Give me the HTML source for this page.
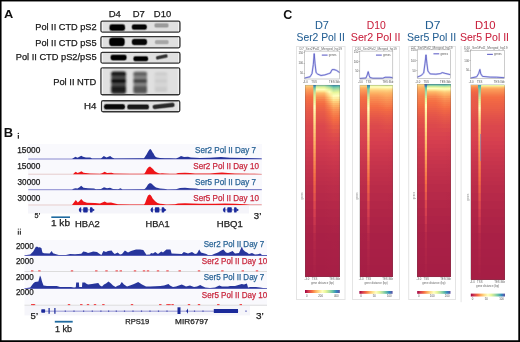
<!DOCTYPE html><html><head><meta charset="utf-8"><style>
html,body{margin:0;padding:0;background:#fff;}
body{width:520px;height:342px;overflow:hidden;position:relative;font-family:"Liberation Sans", sans-serif;}
svg{position:absolute;left:0;top:0;display:block;will-change:transform;}
svg text{font-family:"Liberation Sans", sans-serif;}
</style></head><body>
<svg width="520" height="342" viewBox="0 0 520 342">
<defs>
<filter id="bl" x="-20%" y="-50%" width="140%" height="200%"><feGaussianBlur stdDeviation="1"/></filter>
<linearGradient id="spec" x1="0" x2="1" y1="0" y2="0"><stop offset="0.00" stop-color="#9e0142"/><stop offset="0.10" stop-color="#d53e4f"/><stop offset="0.20" stop-color="#f46d43"/><stop offset="0.30" stop-color="#fdae61"/><stop offset="0.40" stop-color="#fee08b"/><stop offset="0.50" stop-color="#ffffbf"/><stop offset="0.60" stop-color="#e6f598"/><stop offset="0.70" stop-color="#abdda4"/><stop offset="0.80" stop-color="#66c2a5"/><stop offset="0.90" stop-color="#3288bd"/><stop offset="1.00" stop-color="#5e4fa2"/></linearGradient>
</defs>
<rect x="0" y="0" width="520" height="342" fill="#fff"/>
<text x="4.08" y="18.00" font-size="11.59" font-weight="bold" fill="#111" textLength="9.27" lengthAdjust="spacingAndGlyphs" >A</text>
<text x="108.74" y="16.70" font-size="9.42" font-weight="normal" fill="#1a1a1a" stroke="#1a1a1a" stroke-width="0.25" textLength="12.18" lengthAdjust="spacingAndGlyphs" >D4</text>
<text x="132.65" y="16.70" font-size="9.42" font-weight="normal" fill="#1a1a1a" stroke="#1a1a1a" stroke-width="0.25" textLength="12.06" lengthAdjust="spacingAndGlyphs" >D7</text>
<text x="153.85" y="16.70" font-size="9.42" font-weight="normal" fill="#1a1a1a" stroke="#1a1a1a" stroke-width="0.25" textLength="17.28" lengthAdjust="spacingAndGlyphs" >D10</text>
<text x="35.26" y="29.90" font-size="9.57" font-weight="normal" fill="#1a1a1a" stroke="#1a1a1a" stroke-width="0.25" textLength="61.39" lengthAdjust="spacingAndGlyphs" >Pol II CTD pS2</text>
<text x="35.26" y="45.80" font-size="9.57" font-weight="normal" fill="#1a1a1a" stroke="#1a1a1a" stroke-width="0.25" textLength="61.29" lengthAdjust="spacingAndGlyphs" >Pol II CTD pS5</text>
<text x="15.76" y="59.70" font-size="9.42" font-weight="normal" fill="#1a1a1a" stroke="#1a1a1a" stroke-width="0.25" textLength="80.82" lengthAdjust="spacingAndGlyphs" >Pol II CTD pS2/pS5</text>
<text x="53.15" y="84.70" font-size="9.57" font-weight="normal" fill="#1a1a1a" stroke="#1a1a1a" stroke-width="0.25" textLength="43.19" lengthAdjust="spacingAndGlyphs" >Pol II NTD</text>
<text x="84.12" y="108.90" font-size="8.99" font-weight="normal" fill="#1a1a1a" stroke="#1a1a1a" stroke-width="0.25" textLength="12.40" lengthAdjust="spacingAndGlyphs" >H4</text>
<rect x="100.95" y="21.15" width="79.00" height="10.90" rx="1.5" fill="#e0e0e0" stroke="#333" stroke-width="1.3"/>
<rect x="101.90" y="22.00" width="1" height="9.20" fill="#f4f4f4"/>
<rect x="178.00" y="22.00" width="1" height="9.20" fill="#f4f4f4"/>
<rect x="100.95" y="36.65" width="79.00" height="11.20" rx="1.5" fill="#e0e0e0" stroke="#333" stroke-width="1.3"/>
<rect x="101.90" y="37.50" width="1" height="9.50" fill="#f4f4f4"/>
<rect x="178.00" y="37.50" width="1" height="9.50" fill="#f4f4f4"/>
<rect x="100.95" y="52.45" width="79.00" height="10.60" rx="1.5" fill="#e0e0e0" stroke="#333" stroke-width="1.3"/>
<rect x="101.90" y="53.30" width="1" height="8.90" fill="#f4f4f4"/>
<rect x="178.00" y="53.30" width="1" height="8.90" fill="#f4f4f4"/>
<rect x="100.95" y="67.85" width="78.80" height="26.90" rx="1.5" fill="#e0e0e0" stroke="#333" stroke-width="1.3"/>
<rect x="101.90" y="68.70" width="1" height="25.20" fill="#f4f4f4"/>
<rect x="177.80" y="68.70" width="1" height="25.20" fill="#f4f4f4"/>
<rect x="101.55" y="100.75" width="78.20" height="11.00" rx="1.5" fill="#e0e0e0" stroke="#333" stroke-width="1.3"/>
<rect x="102.50" y="101.60" width="1" height="9.30" fill="#f4f4f4"/>
<rect x="177.80" y="101.60" width="1" height="9.30" fill="#f4f4f4"/>
<rect x="108.80" y="23.60" width="16.90" height="7.90" rx="3.34" fill="#000" opacity="0.22"/>
<rect x="109.30" y="24.10" width="15.90" height="6.90" rx="2.84" fill="#000" opacity="0.35"/>
<rect x="109.70" y="24.50" width="15.10" height="6.10" rx="2.44" fill="#000" opacity="0.50"/>
<rect x="110.10" y="24.90" width="14.30" height="5.30" rx="2.04" fill="#000" opacity="1.00"/>
<rect x="131.20" y="23.70" width="16.30" height="6.70" rx="2.88" fill="#050505" opacity="0.22"/>
<rect x="131.70" y="24.20" width="15.30" height="5.70" rx="2.38" fill="#050505" opacity="0.35"/>
<rect x="132.10" y="24.60" width="14.50" height="4.90" rx="1.98" fill="#050505" opacity="0.50"/>
<rect x="132.50" y="25.00" width="13.70" height="4.10" rx="1.58" fill="#050505" opacity="1.00"/>
<rect x="153.80" y="22.60" width="15.40" height="5.60" rx="2.45" fill="#9a9a9a" opacity="0.22"/>
<rect x="154.30" y="23.10" width="14.40" height="4.60" rx="1.95" fill="#9a9a9a" opacity="0.35"/>
<rect x="154.70" y="23.50" width="13.60" height="3.80" rx="1.55" fill="#9a9a9a" opacity="0.50"/>
<rect x="155.10" y="23.90" width="12.80" height="3.00" rx="1.15" fill="#9a9a9a" opacity="1.00"/>
<rect x="108.50" y="36.90" width="16.90" height="9.90" rx="4.11" fill="#000" opacity="0.22"/>
<rect x="109.00" y="37.40" width="15.90" height="8.90" rx="3.61" fill="#000" opacity="0.35"/>
<rect x="109.40" y="37.80" width="15.10" height="8.10" rx="3.21" fill="#000" opacity="0.50"/>
<rect x="109.80" y="38.20" width="14.30" height="7.30" rx="2.81" fill="#000" opacity="1.00"/>
<rect x="131.20" y="38.30" width="16.50" height="7.40" rx="3.15" fill="#050505" opacity="0.22"/>
<rect x="131.70" y="38.80" width="15.50" height="6.40" rx="2.65" fill="#050505" opacity="0.35"/>
<rect x="132.10" y="39.20" width="14.70" height="5.60" rx="2.25" fill="#050505" opacity="0.50"/>
<rect x="132.50" y="39.60" width="13.90" height="4.80" rx="1.85" fill="#050505" opacity="1.00"/>
<rect x="154.30" y="39.40" width="14.90" height="5.40" rx="2.38" fill="#a6a6a6" opacity="0.22"/>
<rect x="154.80" y="39.90" width="13.90" height="4.40" rx="1.88" fill="#a6a6a6" opacity="0.35"/>
<rect x="155.20" y="40.30" width="13.10" height="3.60" rx="1.48" fill="#a6a6a6" opacity="0.50"/>
<rect x="155.60" y="40.70" width="12.30" height="2.80" rx="1.08" fill="#a6a6a6" opacity="1.00"/>
<rect x="109.90" y="54.10" width="17.40" height="7.00" rx="2.99" fill="#000" opacity="0.22"/>
<rect x="110.40" y="54.60" width="16.40" height="6.00" rx="2.49" fill="#000" opacity="0.35"/>
<rect x="110.80" y="55.00" width="15.60" height="5.20" rx="2.09" fill="#000" opacity="0.50"/>
<rect x="111.20" y="55.40" width="14.80" height="4.40" rx="1.69" fill="#000" opacity="1.00"/>
<rect x="132.80" y="55.60" width="15.90" height="6.30" rx="2.72" fill="#000" opacity="0.22"/>
<rect x="133.30" y="56.10" width="14.90" height="5.30" rx="2.22" fill="#000" opacity="0.35"/>
<rect x="133.70" y="56.50" width="14.10" height="4.50" rx="1.82" fill="#000" opacity="0.50"/>
<rect x="134.10" y="56.90" width="13.30" height="3.70" rx="1.42" fill="#000" opacity="1.00"/>
<rect x="103.40" y="103.40" width="22.20" height="6.70" rx="2.88" fill="#080808" opacity="0.22"/>
<rect x="103.90" y="103.90" width="21.20" height="5.70" rx="2.38" fill="#080808" opacity="0.35"/>
<rect x="104.30" y="104.30" width="20.40" height="4.90" rx="1.98" fill="#080808" opacity="0.50"/>
<rect x="104.70" y="104.70" width="19.60" height="4.10" rx="1.58" fill="#080808" opacity="1.00"/>
<rect x="126.60" y="103.80" width="23.00" height="6.30" rx="2.72" fill="#181818" opacity="0.22"/>
<rect x="127.10" y="104.30" width="22.00" height="5.30" rx="2.22" fill="#181818" opacity="0.35"/>
<rect x="127.50" y="104.70" width="21.20" height="4.50" rx="1.82" fill="#181818" opacity="0.50"/>
<rect x="127.90" y="105.10" width="20.40" height="3.70" rx="1.42" fill="#181818" opacity="1.00"/>
<g transform="rotate(-12 161.80 56.90)">
<rect x="155.25" y="54.50" width="13.10" height="4.80" rx="2.40" fill="#333" opacity="0.22"/>
<rect x="155.75" y="55.00" width="12.10" height="3.80" rx="1.90" fill="#333" opacity="0.35"/>
<rect x="156.15" y="55.40" width="11.30" height="3.00" rx="1.50" fill="#333" opacity="0.50"/>
<rect x="156.55" y="55.80" width="10.50" height="2.20" rx="1.10" fill="#333" opacity="1.00"/>
</g>
<g transform="rotate(-6.5 163.60 105.90)">
<rect x="151.90" y="103.10" width="23.40" height="5.60" rx="2.80" fill="#2a2a2a" opacity="0.22"/>
<rect x="152.40" y="103.60" width="22.40" height="4.60" rx="2.30" fill="#2a2a2a" opacity="0.35"/>
<rect x="152.80" y="104.00" width="21.60" height="3.80" rx="1.90" fill="#2a2a2a" opacity="0.50"/>
<rect x="153.20" y="104.40" width="20.80" height="3.00" rx="1.50" fill="#2a2a2a" opacity="1.00"/>
</g>
<g filter="url(#bl)">
<rect x="111.3" y="71.3" width="14.6" height="23.0" rx="2.2" fill="#4a4a4a"/>
<rect x="111.3" y="72.2" width="14.6" height="3.20" rx="1.2" fill="#080808"/>
<rect x="111.3" y="79.2" width="14.6" height="3.60" rx="1.2" fill="#000"/>
<rect x="111.3" y="86.2" width="14.6" height="6.60" rx="1.2" fill="#1a1a1a"/>
<rect x="133.5" y="71.6" width="13.5" height="22.6" rx="2.2" fill="#858585"/>
<rect x="133.5" y="72.2" width="13.5" height="3.20" rx="1.2" fill="#5c5c5c"/>
<rect x="133.5" y="79.2" width="13.5" height="3.60" rx="1.2" fill="#3c3c3c"/>
<rect x="133.5" y="86.2" width="13.5" height="6.60" rx="1.2" fill="#525252"/>
<rect x="154.5" y="72" width="13" height="20" rx="2" fill="#d6d6d6"/>
<rect x="155" y="72.5" width="12" height="2.50" rx="1.2" fill="#cbcbcb"/>
<rect x="155" y="79.5" width="12" height="3.00" rx="1.2" fill="#cbcbcb"/>
<rect x="155" y="87" width="12" height="5.00" rx="1.2" fill="#cbcbcb"/>
</g>
<text x="3.86" y="137.20" font-size="12.03" font-weight="bold" fill="#111" textLength="9.35" lengthAdjust="spacingAndGlyphs" >B</text>
<circle cx="18.35" cy="133.4" r="0.7" fill="#222"/><rect x="17.75" y="135.0" width="1.2" height="3.7" fill="#222"/>
<rect x="28" y="144" width="234" height="61.5" fill="#f9f9fd"/>
<rect x="28" y="205.5" width="221" height="8" fill="#f5f5fa"/>
<text x="17.28" y="152.80" font-size="8.30" font-weight="normal" fill="#1a1a1a" stroke="#1a1a1a" stroke-width="0.25" textLength="23.02" lengthAdjust="spacingAndGlyphs" >15000</text>
<text x="17.28" y="168.70" font-size="8.30" font-weight="normal" fill="#1a1a1a" stroke="#1a1a1a" stroke-width="0.25" textLength="23.02" lengthAdjust="spacingAndGlyphs" >15000</text>
<text x="17.57" y="184.50" font-size="8.30" font-weight="normal" fill="#1a1a1a" stroke="#1a1a1a" stroke-width="0.25" textLength="22.72" lengthAdjust="spacingAndGlyphs" >30000</text>
<text x="17.57" y="200.50" font-size="8.30" font-weight="normal" fill="#1a1a1a" stroke="#1a1a1a" stroke-width="0.25" textLength="22.72" lengthAdjust="spacingAndGlyphs" >30000</text>
<rect x="28.3" y="158.50" width="233.5" height="1" fill="#8a8ad0"/>
<rect x="28.3" y="173.70" width="233.5" height="1" fill="#e6cccc"/>
<rect x="28.3" y="189.20" width="233.5" height="1" fill="#8a8ad0"/>
<rect x="28.3" y="204.50" width="233.5" height="1" fill="#e6cccc"/>
<path d="M28.30,159.00 L72.00,159.00 L73.50,158.00 L75.40,156.70 L77.50,157.70 L79.00,157.00 L81.20,155.70 L83.00,156.80 L86.00,157.40 L90.30,157.60 L92.00,158.60 L101.00,158.50 L103.80,156.10 L106.50,157.40 L110.20,155.90 L112.00,157.50 L114.40,158.60 L144.00,158.25 L145.00,156.80 L146.50,154.50 L148.00,151.70 L149.50,149.60 L150.50,149.10 L151.50,150.30 L152.50,152.20 L153.50,153.60 L154.50,155.40 L155.50,156.80 L157.00,157.60 L160.00,158.00 L165.00,158.20 L170.00,158.30 L176.00,158.50 L179.00,157.20 L181.00,156.10 L184.00,157.00 L188.00,156.80 L191.00,157.50 L200.00,158.00 L210.00,157.80 L221.00,157.00 L230.00,157.80 L245.00,158.00 L255.00,158.20 L261.50,158.50 L261.80,159.00 Z" fill="#27359c"/>
<path d="M28.30,174.20 L73.00,174.20 L74.50,172.70 L75.80,171.70 L77.50,172.90 L79.50,172.20 L81.50,171.20 L83.50,172.70 L88.00,173.20 L90.00,173.60 L100.00,173.80 L102.00,173.20 L104.70,171.70 L107.00,173.00 L111.50,172.70 L114.00,173.60 L130.00,173.80 L143.50,173.70 L144.50,173.50 L145.50,171.90 L147.00,169.10 L148.50,167.20 L150.00,166.50 L151.50,167.70 L153.00,169.10 L154.50,170.90 L156.00,172.10 L158.00,173.00 L160.00,173.40 L162.00,173.30 L165.00,173.60 L170.00,173.80 L176.00,173.70 L178.00,172.90 L185.00,172.70 L190.00,173.00 L195.00,173.40 L210.00,173.40 L215.00,172.90 L222.00,172.60 L228.00,173.00 L235.00,173.60 L250.00,173.80 L261.50,173.90 L261.80,174.20 Z" fill="#ee1418"/>
<path d="M28.30,189.70 L72.00,189.70 L73.50,188.70 L75.40,188.20 L77.50,188.50 L79.50,187.20 L81.20,185.70 L83.50,187.70 L88.00,188.20 L94.00,188.40 L96.00,189.30 L101.00,189.10 L104.00,187.20 L107.00,188.20 L110.00,187.70 L113.00,188.90 L118.00,189.20 L120.60,188.20 L122.50,189.40 L144.00,189.30 L145.00,188.80 L146.50,186.90 L148.00,184.60 L149.50,183.20 L151.00,183.30 L152.50,184.60 L154.00,186.10 L156.00,187.40 L158.00,188.10 L160.00,188.40 L163.00,188.70 L165.50,189.10 L167.50,189.50 L176.00,189.20 L180.00,187.90 L185.00,187.70 L190.00,188.20 L196.00,188.50 L200.00,189.30 L261.50,189.50 L261.80,189.70 Z" fill="#27359c"/>
<path d="M28.30,205.00 L72.00,205.00 L73.50,203.00 L75.80,200.00 L77.80,202.50 L79.50,201.00 L81.20,199.00 L83.50,201.50 L87.00,202.80 L95.00,203.00 L100.00,203.40 L103.00,202.20 L104.70,201.50 L107.00,202.80 L111.00,202.50 L114.80,203.50 L118.00,204.20 L130.00,204.40 L144.00,204.50 L145.00,203.30 L146.00,200.50 L147.00,197.70 L148.00,195.40 L149.50,194.40 L150.50,194.90 L151.50,196.30 L152.50,198.20 L154.00,200.00 L155.50,201.60 L157.50,203.10 L160.00,203.70 L163.00,204.10 L166.00,204.40 L168.00,204.60 L175.00,204.20 L178.00,203.40 L185.00,203.20 L192.00,203.50 L200.00,203.80 L215.00,203.70 L225.00,203.50 L235.00,203.80 L245.00,204.20 L250.00,204.70 L261.50,204.80 L261.80,205.00 Z" fill="#ee1418"/>
<text x="195.04" y="153.20" font-size="8.40" font-weight="normal" fill="#2a6496" stroke="#2a6496" stroke-width="0.25" textLength="61.06" lengthAdjust="spacingAndGlyphs" >Ser2 Pol II Day 7</text>
<text x="193.24" y="168.80" font-size="8.40" font-weight="normal" fill="#c9283e" stroke="#c9283e" stroke-width="0.25" textLength="65.65" lengthAdjust="spacingAndGlyphs" >Ser2 Pol II Day 10</text>
<text x="195.04" y="185.00" font-size="8.40" font-weight="normal" fill="#2a6496" stroke="#2a6496" stroke-width="0.25" textLength="61.06" lengthAdjust="spacingAndGlyphs" >Ser5 Pol II Day 7</text>
<text x="193.24" y="201.00" font-size="8.40" font-weight="normal" fill="#c9283e" stroke="#c9283e" stroke-width="0.25" textLength="65.65" lengthAdjust="spacingAndGlyphs" >Ser5 Pol II Day 10</text>
<rect x="78.70" y="209.50" width="15.5" height="0.8" fill="#6a70c0"/>
<path d="M81.20,207.20 C78.20,207.70 78.20,212.10 81.20,212.60 Z" fill="#1b2a9a"/>
<rect x="83.20" y="207.20" width="4.5" height="5.40" rx="0.8" fill="#1b2a9a"/>
<rect x="90.00" y="207.20" width="2.4" height="5.40" rx="0.6" fill="#1b2a9a"/>
<path d="M92.20,208.00 L94.70,209.90 L92.20,211.80 Z" fill="#1b2a9a"/>
<rect x="150.40" y="209.50" width="15.5" height="0.8" fill="#6a70c0"/>
<path d="M152.90,207.20 C149.90,207.70 149.90,212.10 152.90,212.60 Z" fill="#1b2a9a"/>
<rect x="154.90" y="207.20" width="4.5" height="5.40" rx="0.8" fill="#1b2a9a"/>
<rect x="161.70" y="207.20" width="2.4" height="5.40" rx="0.6" fill="#1b2a9a"/>
<path d="M163.90,208.00 L166.40,209.90 L163.90,211.80 Z" fill="#1b2a9a"/>
<rect x="222.80" y="209.50" width="15.5" height="0.8" fill="#6a70c0"/>
<path d="M225.30,207.20 C222.30,207.70 222.30,212.10 225.30,212.60 Z" fill="#1b2a9a"/>
<rect x="227.30" y="207.20" width="4.5" height="5.40" rx="0.8" fill="#1b2a9a"/>
<rect x="234.10" y="207.20" width="2.4" height="5.40" rx="0.6" fill="#1b2a9a"/>
<path d="M236.30,208.00 L238.80,209.90 L236.30,211.80 Z" fill="#1b2a9a"/>
<text x="34.61" y="218.40" font-size="7.97" font-weight="normal" fill="#222" stroke="#222" stroke-width="0.25" textLength="5.65" lengthAdjust="spacingAndGlyphs" >5’</text>
<text x="253.81" y="218.80" font-size="8.41" font-weight="normal" fill="#222" stroke="#222" stroke-width="0.25" textLength="7.50" lengthAdjust="spacingAndGlyphs" >3’</text>
<rect x="51.3" y="216.4" width="18.7" height="1.6" fill="#1f6aa0"/>
<text x="50.94" y="226.40" font-size="8.20" font-weight="normal" fill="#222" stroke="#222" stroke-width="0.25" textLength="19.06" lengthAdjust="spacingAndGlyphs" >1 kb</text>
<text x="75.05" y="226.50" font-size="8.40" font-weight="normal" fill="#222" stroke="#222" stroke-width="0.25" textLength="24.65" lengthAdjust="spacingAndGlyphs" >HBA2</text>
<text x="145.46" y="226.60" font-size="8.40" font-weight="normal" fill="#222" stroke="#222" stroke-width="0.25" textLength="24.18" lengthAdjust="spacingAndGlyphs" >HBA1</text>
<text x="216.84" y="226.60" font-size="8.40" font-weight="normal" fill="#222" stroke="#222" stroke-width="0.25" textLength="26.03" lengthAdjust="spacingAndGlyphs" >HBQ1</text>
<circle cx="18.35" cy="229.1" r="0.65" fill="#333"/><rect x="17.75" y="230.8" width="1.15" height="3.9" fill="#333"/><circle cx="20.4" cy="229.1" r="0.65" fill="#333"/><rect x="19.8" y="230.8" width="1.15" height="3.9" fill="#333"/>
<rect x="24.5" y="240" width="242.5" height="66" fill="#f9f9fd"/>
<rect x="24.5" y="306" width="225.5" height="9.4" fill="#f5f5fa"/>
<rect x="24.5" y="255.00" width="242.5" height="1" fill="#8a8ad0"/>
<rect x="24.5" y="271.00" width="242.5" height="1" fill="#dcdcdc"/>
<rect x="24.5" y="288.00" width="242.5" height="1" fill="#8a8ad0"/>
<rect x="24.5" y="304.70" width="242.5" height="1" fill="#dcdcdc"/>
<text x="15.90" y="248.90" font-size="8.30" font-weight="normal" fill="#1a1a1a" stroke="#1a1a1a" stroke-width="0.25" textLength="17.88" lengthAdjust="spacingAndGlyphs" >2000</text>
<text x="15.90" y="263.90" font-size="8.30" font-weight="normal" fill="#1a1a1a" stroke="#1a1a1a" stroke-width="0.25" textLength="17.88" lengthAdjust="spacingAndGlyphs" >2000</text>
<text x="15.90" y="280.00" font-size="8.30" font-weight="normal" fill="#1a1a1a" stroke="#1a1a1a" stroke-width="0.25" textLength="17.88" lengthAdjust="spacingAndGlyphs" >2000</text>
<text x="15.90" y="295.40" font-size="8.30" font-weight="normal" fill="#1a1a1a" stroke="#1a1a1a" stroke-width="0.25" textLength="17.88" lengthAdjust="spacingAndGlyphs" >2000</text>
<path d="M24.50,255.50 L25.00,255.20 L30.20,254.50 L33.20,251.50 L35.90,246.70 L37.50,246.70 L38.50,247.50 L39.60,247.20 L41.40,248.00 L42.40,252.50 L44.00,253.30 L49.60,253.50 L51.70,251.00 L53.00,253.30 L57.00,254.50 L58.80,255.00 L66.00,255.00 L70.00,254.00 L75.00,254.20 L81.30,253.70 L83.30,251.50 L86.00,252.00 L88.00,253.00 L90.00,252.50 L93.20,251.50 L97.00,252.00 L99.00,253.50 L101.40,255.00 L103.40,251.00 L106.00,252.00 L108.00,251.00 L111.60,250.50 L113.00,252.50 L114.70,254.00 L117.70,252.50 L120.00,254.50 L122.00,254.00 L124.90,250.50 L128.00,252.50 L131.00,251.00 L136.00,249.50 L140.00,249.50 L143.30,250.00 L146.40,254.70 L150.00,254.50 L151.00,253.00 L153.00,253.50 L155.20,252.00 L158.00,254.00 L161.30,251.50 L163.00,252.50 L166.40,249.50 L170.50,249.50 L171.60,253.50 L181.80,254.00 L183.80,252.00 L188.00,253.50 L192.00,252.00 L195.00,254.00 L197.00,253.50 L199.20,249.50 L201.00,252.50 L206.30,254.00 L208.00,255.00 L212.00,255.00 L214.00,254.00 L218.00,252.50 L221.30,250.50 L223.40,249.50 L226.00,252.50 L228.00,253.00 L232.60,251.00 L235.00,253.50 L239.00,253.00 L241.80,246.50 L243.00,249.50 L245.00,251.50 L247.00,252.50 L249.00,254.00 L252.00,253.00 L255.00,254.50 L258.00,254.30 L260.20,253.50 L262.00,254.90 L267.00,255.10 L267.00,255.50 Z" fill="#27359c"/>
<path d="M24.50,288.50 L25.00,288.20 L30.20,287.50 L33.20,283.50 L35.00,282.00 L38.40,281.50 L40.00,275.60 L41.00,277.50 L42.00,281.50 L43.50,285.50 L47.00,285.90 L52.00,286.10 L56.80,286.00 L60.00,286.90 L71.00,287.00 L74.00,287.50 L75.80,287.30 L76.20,282.50 L78.90,282.50 L79.20,287.00 L82.00,287.00 L82.30,282.50 L85.00,282.50 L86.00,283.50 L88.00,284.50 L92.00,284.00 L95.00,283.50 L98.30,283.00 L100.00,285.50 L102.00,286.50 L104.00,284.50 L106.00,283.50 L108.50,281.50 L111.00,283.50 L113.00,285.50 L115.70,287.00 L117.00,286.00 L119.80,285.00 L121.80,282.00 L124.00,284.50 L127.00,286.50 L130.00,285.50 L134.00,284.00 L138.20,282.00 L142.00,284.50 L146.00,286.50 L150.00,286.50 L160.30,286.00 L164.00,285.50 L168.50,284.00 L170.00,285.50 L173.00,287.00 L176.00,286.50 L181.80,284.50 L184.00,285.50 L186.00,286.50 L190.00,285.50 L194.00,287.00 L197.00,286.50 L200.20,285.00 L202.00,286.00 L205.30,287.50 L210.00,288.00 L215.00,287.50 L219.30,285.50 L222.00,286.50 L228.00,286.50 L230.00,286.00 L235.00,286.00 L241.80,284.00 L244.00,284.50 L246.90,283.50 L248.00,287.50 L250.00,287.00 L256.00,287.00 L260.00,287.50 L263.00,288.00 L267.00,288.20 L267.00,288.50 Z" fill="#27359c"/>
<rect x="31.00" y="270.30" width="2.4" height="1.1" fill="#ee1418" opacity="0.75"/>
<rect x="38.20" y="270.30" width="2.4" height="1.1" fill="#ee1418" opacity="0.75"/>
<rect x="70.80" y="270.30" width="2.4" height="1.1" fill="#ee1418" opacity="0.75"/>
<rect x="95.10" y="270.30" width="2.4" height="1.1" fill="#ee1418" opacity="0.75"/>
<rect x="105.30" y="270.30" width="2.4" height="1.1" fill="#ee1418" opacity="0.75"/>
<rect x="115.50" y="270.30" width="2.4" height="1.1" fill="#ee1418" opacity="0.75"/>
<rect x="119.60" y="270.30" width="2.4" height="1.1" fill="#ee1418" opacity="0.75"/>
<rect x="133.80" y="270.30" width="2.4" height="1.1" fill="#ee1418" opacity="0.75"/>
<rect x="142.80" y="270.30" width="2.4" height="1.1" fill="#ee1418" opacity="0.75"/>
<rect x="146.80" y="270.30" width="2.4" height="1.1" fill="#ee1418" opacity="0.75"/>
<rect x="156.80" y="270.30" width="2.4" height="1.1" fill="#ee1418" opacity="0.75"/>
<rect x="166.30" y="270.30" width="2.4" height="1.1" fill="#ee1418" opacity="0.75"/>
<rect x="178.50" y="270.30" width="2.4" height="1.1" fill="#ee1418" opacity="0.75"/>
<rect x="197.80" y="270.30" width="2.4" height="1.1" fill="#ee1418" opacity="0.75"/>
<rect x="221.20" y="270.30" width="2.4" height="1.1" fill="#ee1418" opacity="0.75"/>
<rect x="241.60" y="270.30" width="2.4" height="1.1" fill="#ee1418" opacity="0.75"/>
<rect x="255.80" y="270.30" width="2.4" height="1.1" fill="#ee1418" opacity="0.75"/>
<rect x="31.00" y="304.00" width="2.4" height="1.1" fill="#ee1418" opacity="0.75"/>
<rect x="32.80" y="304.00" width="2.4" height="1.1" fill="#ee1418" opacity="0.75"/>
<rect x="67.80" y="304.00" width="2.4" height="1.1" fill="#ee1418" opacity="0.75"/>
<rect x="80.10" y="304.00" width="2.4" height="1.1" fill="#ee1418" opacity="0.75"/>
<rect x="86.80" y="304.00" width="2.4" height="1.1" fill="#ee1418" opacity="0.75"/>
<rect x="93.80" y="304.00" width="2.4" height="1.1" fill="#ee1418" opacity="0.75"/>
<rect x="102.20" y="304.00" width="2.4" height="1.1" fill="#ee1418" opacity="0.75"/>
<rect x="130.80" y="304.00" width="2.4" height="1.1" fill="#ee1418" opacity="0.75"/>
<rect x="159.10" y="304.00" width="2.4" height="1.1" fill="#ee1418" opacity="0.75"/>
<rect x="166.30" y="304.00" width="2.4" height="1.1" fill="#ee1418" opacity="0.75"/>
<rect x="168.30" y="304.00" width="2.4" height="1.1" fill="#ee1418" opacity="0.75"/>
<rect x="171.40" y="304.00" width="2.4" height="1.1" fill="#ee1418" opacity="0.75"/>
<rect x="187.80" y="304.00" width="2.4" height="1.1" fill="#ee1418" opacity="0.75"/>
<rect x="197.80" y="304.00" width="2.4" height="1.1" fill="#ee1418" opacity="0.75"/>
<rect x="217.10" y="304.00" width="2.4" height="1.1" fill="#ee1418" opacity="0.75"/>
<rect x="239.60" y="304.00" width="2.4" height="1.1" fill="#ee1418" opacity="0.75"/>
<text x="203.74" y="247.20" font-size="8.40" font-weight="normal" fill="#2a6496" stroke="#2a6496" stroke-width="0.25" textLength="60.55" lengthAdjust="spacingAndGlyphs" >Ser2 Pol II Day 7</text>
<text x="201.84" y="264.00" font-size="8.40" font-weight="normal" fill="#c9283e" stroke="#c9283e" stroke-width="0.25" textLength="65.45" lengthAdjust="spacingAndGlyphs" >Ser2 Pol II Day 10</text>
<text x="203.74" y="280.40" font-size="8.40" font-weight="normal" fill="#2a6496" stroke="#2a6496" stroke-width="0.25" textLength="60.55" lengthAdjust="spacingAndGlyphs" >Ser5 Pol II Day 7</text>
<text x="201.84" y="298.10" font-size="8.40" font-weight="normal" fill="#c9283e" stroke="#c9283e" stroke-width="0.25" textLength="65.45" lengthAdjust="spacingAndGlyphs" >Ser5 Pol II Day 10</text>
<rect x="41.3" y="310.7" width="197" height="0.9" fill="#8a8ad0"/>
<rect x="64.70" y="310.5" width="1.2" height="1.3" fill="#4a50b0"/>
<rect x="73.40" y="310.5" width="1.2" height="1.3" fill="#4a50b0"/>
<rect x="83.00" y="310.5" width="1.2" height="1.3" fill="#4a50b0"/>
<rect x="91.70" y="310.5" width="1.2" height="1.3" fill="#4a50b0"/>
<rect x="100.30" y="310.5" width="1.2" height="1.3" fill="#4a50b0"/>
<rect x="108.00" y="310.5" width="1.2" height="1.3" fill="#4a50b0"/>
<rect x="115.70" y="310.5" width="1.2" height="1.3" fill="#4a50b0"/>
<rect x="123.90" y="310.5" width="1.2" height="1.3" fill="#4a50b0"/>
<rect x="132.40" y="310.5" width="1.2" height="1.3" fill="#4a50b0"/>
<rect x="140.90" y="310.5" width="1.2" height="1.3" fill="#4a50b0"/>
<rect x="149.40" y="310.5" width="1.2" height="1.3" fill="#4a50b0"/>
<rect x="157.90" y="310.5" width="1.2" height="1.3" fill="#4a50b0"/>
<rect x="166.40" y="310.5" width="1.2" height="1.3" fill="#4a50b0"/>
<rect x="193.90" y="310.5" width="1.2" height="1.3" fill="#4a50b0"/>
<rect x="202.40" y="310.5" width="1.2" height="1.3" fill="#4a50b0"/>
<rect x="245.40" y="310.5" width="1.2" height="1.3" fill="#4a50b0"/>
<rect x="41.3" y="309.2" width="3.8" height="3.5" rx="0.6" fill="#1b2a9a"/>
<rect x="48.5" y="308.0" width="1.2" height="5.8" fill="#1b2a9a"/>
<rect x="54.3" y="308.0" width="1.2" height="5.8" fill="#1b2a9a"/>
<rect x="177.5" y="307.3" width="3" height="6.7" fill="#1b2a9a"/>
<path d="M186.2,311.1 L188,308.5 L188,313.7 Z" fill="#1b2a9a"/>
<rect x="213.8" y="309.0" width="24.2" height="4" fill="#1b2a9a"/>
<text x="30.62" y="318.80" font-size="8.55" font-weight="normal" fill="#222" stroke="#222" stroke-width="0.25" textLength="7.38" lengthAdjust="spacingAndGlyphs" >5’</text>
<text x="255.90" y="319.00" font-size="8.70" font-weight="normal" fill="#222" stroke="#222" stroke-width="0.25" textLength="7.73" lengthAdjust="spacingAndGlyphs" >3’</text>
<rect x="54.8" y="320.8" width="17.9" height="1.8" fill="#1f6aa0"/>
<text x="55.02" y="331.70" font-size="8.20" font-weight="normal" fill="#222" stroke="#222" stroke-width="0.25" textLength="17.04" lengthAdjust="spacingAndGlyphs" >1 kb</text>
<text x="125.19" y="323.90" font-size="7.68" font-weight="normal" fill="#222" stroke="#222" stroke-width="0.25" textLength="23.97" lengthAdjust="spacingAndGlyphs" >RPS19</text>
<text x="175.14" y="323.90" font-size="7.68" font-weight="normal" fill="#222" stroke="#222" stroke-width="0.25" textLength="33.29" lengthAdjust="spacingAndGlyphs" >MIR6797</text>
<text x="283.30" y="18.70" font-size="12.32" font-weight="bold" fill="#111" textLength="9.04" lengthAdjust="spacingAndGlyphs" >C</text>
<text x="314.93" y="28.60" font-size="11.01" font-weight="normal" fill="#245f93" stroke="#245f93" stroke-width="0.05" textLength="13.96" lengthAdjust="spacingAndGlyphs" >D7</text>
<text x="296.54" y="40.80" font-size="11.01" font-weight="normal" fill="#245f93" stroke="#245f93" stroke-width="0.05" textLength="48.24" lengthAdjust="spacingAndGlyphs" >Ser2 Pol II</text>
<text x="366.87" y="28.60" font-size="11.01" font-weight="normal" fill="#c9213d" stroke="#c9213d" stroke-width="0.05" textLength="18.99" lengthAdjust="spacingAndGlyphs" >D10</text>
<text x="350.82" y="40.80" font-size="11.01" font-weight="normal" fill="#c9213d" stroke="#c9213d" stroke-width="0.05" textLength="49.68" lengthAdjust="spacingAndGlyphs" >Ser2 Pol II</text>
<text x="425.04" y="28.60" font-size="11.01" font-weight="normal" fill="#245f93" stroke="#245f93" stroke-width="0.05" textLength="15.41" lengthAdjust="spacingAndGlyphs" >D7</text>
<text x="407.03" y="40.80" font-size="11.01" font-weight="normal" fill="#245f93" stroke="#245f93" stroke-width="0.05" textLength="49.16" lengthAdjust="spacingAndGlyphs" >Ser5 Pol II</text>
<text x="474.90" y="28.60" font-size="11.01" font-weight="normal" fill="#c9213d" stroke="#c9213d" stroke-width="0.05" textLength="20.69" lengthAdjust="spacingAndGlyphs" >D10</text>
<text x="459.93" y="40.80" font-size="11.01" font-weight="normal" fill="#c9213d" stroke="#c9213d" stroke-width="0.05" textLength="49.06" lengthAdjust="spacingAndGlyphs" >Ser5 Pol II</text>
<rect x="296.50" y="46.50" width="48.50" height="253.00" fill="#fff" stroke="#e4e4e4" stroke-width="1"/>
<polyline points="304.60,78.10 308.20,77.20 310.10,76.80 312.00,73.60 313.30,64.60 314.20,53.70 315.00,63.30 316.10,72.60 317.80,74.20 321.00,75.50 324.90,74.90 328.70,73.60 330.40,73.00 332.00,69.70 333.90,69.50 336.50,70.40 339.70,72.60" fill="none" stroke="#cdd0f2" stroke-width="1.9" stroke-linejoin="round"/>
<polyline points="304.60,78.10 308.20,77.20 310.10,76.80 312.00,73.60 313.30,64.60 314.20,53.70 315.00,63.30 316.10,72.60 317.80,74.20 321.00,75.50 324.90,74.90 328.70,73.60 330.40,73.00 332.00,69.70 333.90,69.50 336.50,70.40 339.70,72.60" fill="none" stroke="#4f50c0" stroke-width="0.75" stroke-linejoin="round"/>
<rect x="304.60" y="51.10" width="35.10" height="27.90" fill="none" stroke="#9a9a9a" stroke-width="0.5"/>
<rect x="321.80" y="54.50" width="5.8" height="1.2" fill="#7070cc"/>
<text x="328.80" y="56.10" font-size="2.8" fill="#555">genes</text>
<text x="320.75" y="49.90" font-size="3.0" fill="#666" text-anchor="middle" textLength="42.57" lengthAdjust="spacingAndGlyphs">D7_Ser2Pol2_Merged_hg19</text>
<text x="303.10" y="53.60" font-size="2.8" fill="#555" text-anchor="end">150</text>
<rect x="303.60" y="52.35" width="1" height="0.5" fill="#777"/>
<text x="303.10" y="64.30" font-size="2.8" fill="#555" text-anchor="end">100</text>
<rect x="303.60" y="63.05" width="1" height="0.5" fill="#777"/>
<text x="303.10" y="74.30" font-size="2.8" fill="#555" text-anchor="end">50</text>
<rect x="303.60" y="73.05" width="1" height="0.5" fill="#777"/>
<text x="305.30" y="83.00" font-size="2.8" fill="#555" text-anchor="middle">-3.0</text>
<text x="314.08" y="83.00" font-size="2.8" fill="#555" text-anchor="middle">TSS</text>
<text x="334.44" y="83.00" font-size="2.8" fill="#555" text-anchor="middle">TES:3kb</text>
<defs><linearGradient id="h0_0" x1="0" x2="1" y1="0" y2="0"><stop offset="0.000" stop-color="#fed985"/><stop offset="0.224" stop-color="#fed480"/><stop offset="0.245" stop-color="#3682ba"/><stop offset="0.295" stop-color="#3682ba"/><stop offset="0.316" stop-color="#9ad6a4"/><stop offset="0.550" stop-color="#9ad6a4"/><stop offset="0.700" stop-color="#68c3a5"/><stop offset="0.820" stop-color="#4299b6"/><stop offset="1.000" stop-color="#4fa9b0"/></linearGradient><linearGradient id="h0_1" x1="0" x2="1" y1="0" y2="0"><stop offset="0.000" stop-color="#fdc574"/><stop offset="0.227" stop-color="#fdbf70"/><stop offset="0.247" stop-color="#3f96b7"/><stop offset="0.293" stop-color="#3f96b7"/><stop offset="0.313" stop-color="#c0e5a0"/><stop offset="0.550" stop-color="#c0e5a0"/><stop offset="0.700" stop-color="#8ad0a4"/><stop offset="0.820" stop-color="#56b1ac"/><stop offset="1.000" stop-color="#63bfa6"/></linearGradient><linearGradient id="h0_2" x1="0" x2="1" y1="0" y2="0"><stop offset="0.000" stop-color="#fdb869"/><stop offset="0.227" stop-color="#fdb365"/><stop offset="0.247" stop-color="#59b4ab"/><stop offset="0.293" stop-color="#59b4ab"/><stop offset="0.313" stop-color="#e3f499"/><stop offset="0.550" stop-color="#e3f499"/><stop offset="0.700" stop-color="#b1dfa3"/><stop offset="0.820" stop-color="#77c9a5"/><stop offset="1.000" stop-color="#87cfa5"/></linearGradient><linearGradient id="h0_3" x1="0" x2="1" y1="0" y2="0"><stop offset="0.000" stop-color="#fdad61"/><stop offset="0.227" stop-color="#fca85e"/><stop offset="0.247" stop-color="#74c7a5"/><stop offset="0.293" stop-color="#74c7a5"/><stop offset="0.313" stop-color="#f2faac"/><stop offset="0.550" stop-color="#f2faac"/><stop offset="0.700" stop-color="#cdeb9d"/><stop offset="0.820" stop-color="#93d4a4"/><stop offset="1.000" stop-color="#a2daa4"/></linearGradient><linearGradient id="h0_4" x1="0" x2="1" y1="0" y2="0"><stop offset="0.000" stop-color="#fba35c"/><stop offset="0.227" stop-color="#fb9e5a"/><stop offset="0.247" stop-color="#8cd1a4"/><stop offset="0.293" stop-color="#8cd1a4"/><stop offset="0.313" stop-color="#fffdbc"/><stop offset="0.550" stop-color="#fffdbc"/><stop offset="0.700" stop-color="#e7f599"/><stop offset="0.820" stop-color="#abdda4"/><stop offset="1.000" stop-color="#b7e2a1"/></linearGradient><linearGradient id="h0_5" x1="0" x2="1" y1="0" y2="0"><stop offset="0.000" stop-color="#fb9c59"/><stop offset="0.227" stop-color="#fa9757"/><stop offset="0.247" stop-color="#a1d9a4"/><stop offset="0.293" stop-color="#a1d9a4"/><stop offset="0.313" stop-color="#fef0a5"/><stop offset="0.550" stop-color="#fef0a5"/><stop offset="0.700" stop-color="#f1f9a9"/><stop offset="0.820" stop-color="#c0e5a0"/><stop offset="1.000" stop-color="#cbea9d"/></linearGradient><linearGradient id="h0_6" x1="0" x2="1" y1="0" y2="0"><stop offset="0.000" stop-color="#fa9656"/><stop offset="0.227" stop-color="#f99154"/><stop offset="0.247" stop-color="#b1dfa3"/><stop offset="0.293" stop-color="#b1dfa3"/><stop offset="0.313" stop-color="#fee28e"/><stop offset="0.550" stop-color="#fee28e"/><stop offset="0.700" stop-color="#fafdb7"/><stop offset="0.820" stop-color="#d1ed9c"/><stop offset="1.000" stop-color="#ddf19a"/></linearGradient><linearGradient id="h0_7" x1="0" x2="1" y1="0" y2="0"><stop offset="0.000" stop-color="#f98f53"/><stop offset="0.227" stop-color="#f88a50"/><stop offset="0.247" stop-color="#bde4a0"/><stop offset="0.293" stop-color="#bde4a0"/><stop offset="0.313" stop-color="#feca78"/><stop offset="0.550" stop-color="#feca78"/><stop offset="0.700" stop-color="#fff8b3"/><stop offset="0.820" stop-color="#e6f598"/><stop offset="1.000" stop-color="#eaf79f"/></linearGradient><linearGradient id="h0_8" x1="0" x2="1" y1="0" y2="0"><stop offset="0.000" stop-color="#f88850"/><stop offset="0.227" stop-color="#f7844d"/><stop offset="0.247" stop-color="#c7e89e"/><stop offset="0.293" stop-color="#c7e89e"/><stop offset="0.313" stop-color="#fdb869"/><stop offset="0.550" stop-color="#fdb869"/><stop offset="0.700" stop-color="#feeea2"/><stop offset="0.820" stop-color="#eef8a5"/><stop offset="1.000" stop-color="#f2faab"/></linearGradient><linearGradient id="h0_9" x1="0" x2="1" y1="0" y2="0"><stop offset="0.000" stop-color="#f7824d"/><stop offset="0.227" stop-color="#f67d4a"/><stop offset="0.247" stop-color="#d0ec9c"/><stop offset="0.293" stop-color="#d0ec9c"/><stop offset="0.313" stop-color="#fdae61"/><stop offset="0.550" stop-color="#fdae61"/><stop offset="0.700" stop-color="#fee796"/><stop offset="0.820" stop-color="#f4fbae"/><stop offset="1.000" stop-color="#f8fcb5"/></linearGradient><linearGradient id="h0_10" x1="0" x2="1" y1="0" y2="0"><stop offset="0.000" stop-color="#f67b4a"/><stop offset="0.227" stop-color="#f57748"/><stop offset="0.247" stop-color="#d7ef9b"/><stop offset="0.293" stop-color="#d7ef9b"/><stop offset="0.313" stop-color="#fba35c"/><stop offset="0.550" stop-color="#fba35c"/><stop offset="0.700" stop-color="#fee08b"/><stop offset="0.820" stop-color="#fbfdb9"/><stop offset="1.000" stop-color="#ffffbf"/></linearGradient><linearGradient id="h0_11" x1="0" x2="1" y1="0" y2="0"><stop offset="0.000" stop-color="#f57647"/><stop offset="0.227" stop-color="#f57245"/><stop offset="0.247" stop-color="#ddf19a"/><stop offset="0.293" stop-color="#ddf19a"/><stop offset="0.313" stop-color="#fa9a58"/><stop offset="0.550" stop-color="#fa9a58"/><stop offset="0.700" stop-color="#fed582"/><stop offset="0.820" stop-color="#fffbb8"/><stop offset="1.000" stop-color="#fff7b1"/></linearGradient><linearGradient id="h0_12" x1="0" x2="1" y1="0" y2="0"><stop offset="0.000" stop-color="#f47145"/><stop offset="0.227" stop-color="#f46d43"/><stop offset="0.247" stop-color="#e3f499"/><stop offset="0.293" stop-color="#e3f499"/><stop offset="0.313" stop-color="#f88d52"/><stop offset="0.550" stop-color="#f88d52"/><stop offset="0.700" stop-color="#fdc776"/><stop offset="0.820" stop-color="#feefa5"/><stop offset="1.000" stop-color="#feeb9e"/></linearGradient><linearGradient id="h0_13" x1="0" x2="1" y1="0" y2="0"><stop offset="0.000" stop-color="#f36c43"/><stop offset="0.227" stop-color="#f26944"/><stop offset="0.247" stop-color="#e8f69c"/><stop offset="0.293" stop-color="#e8f69c"/><stop offset="0.313" stop-color="#f67f4b"/><stop offset="0.550" stop-color="#f67f4b"/><stop offset="0.700" stop-color="#fdb668"/><stop offset="0.820" stop-color="#fee28e"/><stop offset="1.000" stop-color="#fedc88"/></linearGradient><linearGradient id="h0_14" x1="0" x2="1" y1="0" y2="0"><stop offset="0.000" stop-color="#f16944"/><stop offset="0.227" stop-color="#f06645"/><stop offset="0.247" stop-color="#edf8a4"/><stop offset="0.293" stop-color="#edf8a4"/><stop offset="0.313" stop-color="#f57446"/><stop offset="0.550" stop-color="#f57446"/><stop offset="0.700" stop-color="#fca55d"/><stop offset="0.820" stop-color="#fece7b"/><stop offset="1.000" stop-color="#fec877"/></linearGradient><linearGradient id="h0_15" x1="0" x2="1" y1="0" y2="0"><stop offset="0.000" stop-color="#ef6545"/><stop offset="0.227" stop-color="#ed6346"/><stop offset="0.247" stop-color="#f4faad"/><stop offset="0.293" stop-color="#f4faad"/><stop offset="0.313" stop-color="#f36c43"/><stop offset="0.550" stop-color="#f36c43"/><stop offset="0.700" stop-color="#fa9656"/><stop offset="0.820" stop-color="#fdbc6d"/><stop offset="1.000" stop-color="#fdb769"/></linearGradient><linearGradient id="h0_16" x1="0" x2="1" y1="0" y2="0"><stop offset="0.000" stop-color="#ed6246"/><stop offset="0.227" stop-color="#eb6046"/><stop offset="0.247" stop-color="#fbfeb9"/><stop offset="0.293" stop-color="#fbfeb9"/><stop offset="0.313" stop-color="#f06744"/><stop offset="0.550" stop-color="#f06744"/><stop offset="0.700" stop-color="#f88a50"/><stop offset="0.820" stop-color="#fdaf62"/><stop offset="1.000" stop-color="#fca95f"/></linearGradient><linearGradient id="h0_17" x1="0" x2="1" y1="0" y2="0"><stop offset="0.000" stop-color="#eb5f47"/><stop offset="0.227" stop-color="#e95c47"/><stop offset="0.247" stop-color="#fffcba"/><stop offset="0.293" stop-color="#fffcba"/><stop offset="0.313" stop-color="#ed6346"/><stop offset="0.550" stop-color="#ed6346"/><stop offset="0.700" stop-color="#f7804c"/><stop offset="0.820" stop-color="#fba05b"/><stop offset="1.000" stop-color="#fa9b58"/></linearGradient><linearGradient id="h0_18" x1="0" x2="1" y1="0" y2="0"><stop offset="0.000" stop-color="#e95c47"/><stop offset="0.227" stop-color="#e75948"/><stop offset="0.247" stop-color="#fff6af"/><stop offset="0.293" stop-color="#fff6af"/><stop offset="0.313" stop-color="#eb5f47"/><stop offset="0.550" stop-color="#eb5f47"/><stop offset="0.700" stop-color="#f57647"/><stop offset="0.820" stop-color="#f99455"/><stop offset="1.000" stop-color="#f98f53"/></linearGradient><linearGradient id="h0_19" x1="0" x2="1" y1="0" y2="0"><stop offset="0.000" stop-color="#e75948"/><stop offset="0.227" stop-color="#e55749"/><stop offset="0.247" stop-color="#fff1a7"/><stop offset="0.293" stop-color="#fff1a7"/><stop offset="0.313" stop-color="#e85b48"/><stop offset="0.550" stop-color="#e85b48"/><stop offset="0.700" stop-color="#f46f44"/><stop offset="0.820" stop-color="#f88950"/><stop offset="1.000" stop-color="#f7854e"/></linearGradient><linearGradient id="h0_20" x1="0" x2="1" y1="0" y2="0"><stop offset="0.000" stop-color="#e55749"/><stop offset="0.227" stop-color="#e45549"/><stop offset="0.247" stop-color="#feeca0"/><stop offset="0.293" stop-color="#feeca0"/><stop offset="0.313" stop-color="#e65848"/><stop offset="0.550" stop-color="#e65848"/><stop offset="0.700" stop-color="#f26a44"/><stop offset="0.820" stop-color="#f7814c"/><stop offset="1.000" stop-color="#f67d4a"/></linearGradient><linearGradient id="h0_21" x1="0" x2="1" y1="0" y2="0"><stop offset="0.000" stop-color="#e45549"/><stop offset="0.227" stop-color="#e3534a"/><stop offset="0.247" stop-color="#fee899"/><stop offset="0.293" stop-color="#fee899"/><stop offset="0.313" stop-color="#e45649"/><stop offset="0.550" stop-color="#e45649"/><stop offset="0.700" stop-color="#ef6645"/><stop offset="0.820" stop-color="#f67948"/><stop offset="1.000" stop-color="#f57547"/></linearGradient><linearGradient id="h0_22" x1="0" x2="1" y1="0" y2="0"><stop offset="0.000" stop-color="#e3534a"/><stop offset="0.227" stop-color="#e1514a"/><stop offset="0.247" stop-color="#fee593"/><stop offset="0.293" stop-color="#fee593"/><stop offset="0.313" stop-color="#e3534a"/><stop offset="0.550" stop-color="#e3534a"/><stop offset="0.700" stop-color="#ec6146"/><stop offset="0.820" stop-color="#f57245"/><stop offset="1.000" stop-color="#f46e43"/></linearGradient><linearGradient id="h0_23" x1="0" x2="1" y1="0" y2="0"><stop offset="0.000" stop-color="#e1504a"/><stop offset="0.227" stop-color="#e04e4b"/><stop offset="0.247" stop-color="#fee28e"/><stop offset="0.293" stop-color="#fee28e"/><stop offset="0.313" stop-color="#e1504a"/><stop offset="0.550" stop-color="#e1504a"/><stop offset="0.700" stop-color="#ea5e47"/><stop offset="0.820" stop-color="#f36c43"/><stop offset="1.000" stop-color="#f16944"/></linearGradient><linearGradient id="h0_24" x1="0" x2="1" y1="0" y2="0"><stop offset="0.000" stop-color="#df4e4b"/><stop offset="0.227" stop-color="#de4c4b"/><stop offset="0.247" stop-color="#fede89"/><stop offset="0.293" stop-color="#fede89"/><stop offset="0.313" stop-color="#df4d4b"/><stop offset="0.550" stop-color="#df4d4b"/><stop offset="0.700" stop-color="#e75a48"/><stop offset="0.820" stop-color="#f06745"/><stop offset="1.000" stop-color="#ee6445"/></linearGradient><linearGradient id="h0_25" x1="0" x2="1" y1="0" y2="0"><stop offset="0.000" stop-color="#de4b4c"/><stop offset="0.227" stop-color="#dd4a4c"/><stop offset="0.247" stop-color="#fed885"/><stop offset="0.293" stop-color="#fed885"/><stop offset="0.313" stop-color="#dd4a4c"/><stop offset="0.550" stop-color="#dd4a4c"/><stop offset="0.700" stop-color="#e55649"/><stop offset="0.820" stop-color="#ed6246"/><stop offset="1.000" stop-color="#eb6046"/></linearGradient><linearGradient id="h0_26" x1="0" x2="1" y1="0" y2="0"><stop offset="0.000" stop-color="#dc494c"/><stop offset="0.227" stop-color="#db474d"/><stop offset="0.247" stop-color="#fed27f"/><stop offset="0.293" stop-color="#fed27f"/><stop offset="0.313" stop-color="#db474d"/><stop offset="0.550" stop-color="#db474d"/><stop offset="0.700" stop-color="#e2524a"/><stop offset="0.820" stop-color="#e95c47"/><stop offset="1.000" stop-color="#e75a48"/></linearGradient><linearGradient id="h0_27" x1="0" x2="1" y1="0" y2="0"><stop offset="0.000" stop-color="#db474d"/><stop offset="0.227" stop-color="#da464d"/><stop offset="0.247" stop-color="#feca79"/><stop offset="0.293" stop-color="#feca79"/><stop offset="0.313" stop-color="#da464d"/><stop offset="0.550" stop-color="#da464d"/><stop offset="0.700" stop-color="#df4d4b"/><stop offset="0.820" stop-color="#e45549"/><stop offset="1.000" stop-color="#e3534a"/></linearGradient><linearGradient id="h0_28" x1="0" x2="1" y1="0" y2="0"><stop offset="0.000" stop-color="#da454d"/><stop offset="0.227" stop-color="#d9444e"/><stop offset="0.247" stop-color="#fdc272"/><stop offset="0.293" stop-color="#fdc272"/><stop offset="0.313" stop-color="#d9444e"/><stop offset="0.550" stop-color="#d9444e"/><stop offset="0.700" stop-color="#dc494c"/><stop offset="0.820" stop-color="#e04e4b"/><stop offset="1.000" stop-color="#df4d4b"/></linearGradient><linearGradient id="h0_29" x1="0" x2="1" y1="0" y2="0"><stop offset="0.000" stop-color="#d8424e"/><stop offset="0.227" stop-color="#d7414e"/><stop offset="0.247" stop-color="#fdba6b"/><stop offset="0.293" stop-color="#fdba6b"/><stop offset="0.313" stop-color="#d7414e"/><stop offset="0.550" stop-color="#d7414e"/><stop offset="0.700" stop-color="#da454d"/><stop offset="0.820" stop-color="#dc494c"/><stop offset="1.000" stop-color="#db474d"/></linearGradient><linearGradient id="h0_30" x1="0" x2="1" y1="0" y2="0"><stop offset="0.000" stop-color="#d63f4f"/><stop offset="0.227" stop-color="#d53e4f"/><stop offset="0.247" stop-color="#fdb264"/><stop offset="0.293" stop-color="#fdb264"/><stop offset="0.313" stop-color="#d53e4f"/><stop offset="0.550" stop-color="#d53e4f"/><stop offset="0.700" stop-color="#d7414e"/><stop offset="0.820" stop-color="#d9444d"/><stop offset="1.000" stop-color="#d8424e"/></linearGradient><linearGradient id="h0_31" x1="0" x2="1" y1="0" y2="0"><stop offset="0.000" stop-color="#d33d4f"/><stop offset="0.227" stop-color="#d23c4e"/><stop offset="0.247" stop-color="#fcaa5f"/><stop offset="0.293" stop-color="#fcaa5f"/><stop offset="0.313" stop-color="#d23c4e"/><stop offset="0.550" stop-color="#d23c4e"/><stop offset="0.700" stop-color="#d53e4f"/><stop offset="0.820" stop-color="#d6404f"/><stop offset="1.000" stop-color="#d53e4f"/></linearGradient><linearGradient id="h0_32" x1="0" x2="1" y1="0" y2="0"><stop offset="0.000" stop-color="#d03b4e"/><stop offset="0.227" stop-color="#cf3a4e"/><stop offset="0.247" stop-color="#fba15b"/><stop offset="0.293" stop-color="#fba15b"/><stop offset="0.313" stop-color="#cf3a4e"/><stop offset="0.550" stop-color="#cf3a4e"/><stop offset="0.700" stop-color="#d13c4e"/><stop offset="0.820" stop-color="#d43d4f"/><stop offset="1.000" stop-color="#d23c4e"/></linearGradient><linearGradient id="h0_33" x1="0" x2="1" y1="0" y2="0"><stop offset="0.000" stop-color="#cd394d"/><stop offset="0.227" stop-color="#cc384d"/><stop offset="0.247" stop-color="#fa9857"/><stop offset="0.293" stop-color="#fa9857"/><stop offset="0.313" stop-color="#cc384d"/><stop offset="0.550" stop-color="#cc384d"/><stop offset="0.700" stop-color="#ce394e"/><stop offset="0.820" stop-color="#d13b4e"/><stop offset="1.000" stop-color="#cf3a4e"/></linearGradient><linearGradient id="h0_34" x1="0" x2="1" y1="0" y2="0"><stop offset="0.000" stop-color="#ca374d"/><stop offset="0.227" stop-color="#c9364d"/><stop offset="0.247" stop-color="#f99053"/><stop offset="0.293" stop-color="#f99053"/><stop offset="0.313" stop-color="#c9364d"/><stop offset="0.550" stop-color="#c9364d"/><stop offset="0.700" stop-color="#cb374d"/><stop offset="0.820" stop-color="#cd394d"/><stop offset="1.000" stop-color="#cc384d"/></linearGradient><linearGradient id="h0_35" x1="0" x2="1" y1="0" y2="0"><stop offset="0.000" stop-color="#c8354c"/><stop offset="0.227" stop-color="#c7344c"/><stop offset="0.247" stop-color="#f8884f"/><stop offset="0.293" stop-color="#f8884f"/><stop offset="0.313" stop-color="#c7344c"/><stop offset="0.550" stop-color="#c7344c"/><stop offset="0.700" stop-color="#c9364c"/><stop offset="0.820" stop-color="#cb374d"/><stop offset="1.000" stop-color="#c9364d"/></linearGradient><linearGradient id="h0_36" x1="0" x2="1" y1="0" y2="0"><stop offset="0.000" stop-color="#c5334c"/><stop offset="0.227" stop-color="#c4334c"/><stop offset="0.247" stop-color="#f7804c"/><stop offset="0.293" stop-color="#f7804c"/><stop offset="0.313" stop-color="#c4334c"/><stop offset="0.550" stop-color="#c4334c"/><stop offset="0.700" stop-color="#c6344c"/><stop offset="0.820" stop-color="#c8354c"/><stop offset="1.000" stop-color="#c7344c"/></linearGradient><linearGradient id="h0_37" x1="0" x2="1" y1="0" y2="0"><stop offset="0.000" stop-color="#c3324b"/><stop offset="0.227" stop-color="#c2314b"/><stop offset="0.247" stop-color="#f67848"/><stop offset="0.293" stop-color="#f67848"/><stop offset="0.313" stop-color="#c2314b"/><stop offset="0.550" stop-color="#c2314b"/><stop offset="0.700" stop-color="#c4324b"/><stop offset="0.820" stop-color="#c6334c"/><stop offset="1.000" stop-color="#c4334c"/></linearGradient><linearGradient id="h0_38" x1="0" x2="1" y1="0" y2="0"><stop offset="0.000" stop-color="#c1304b"/><stop offset="0.227" stop-color="#c0304b"/><stop offset="0.247" stop-color="#f47045"/><stop offset="0.293" stop-color="#f47045"/><stop offset="0.313" stop-color="#c0304b"/><stop offset="0.550" stop-color="#c0304b"/><stop offset="0.700" stop-color="#c1314b"/><stop offset="0.820" stop-color="#c3324b"/><stop offset="1.000" stop-color="#c2314b"/></linearGradient><linearGradient id="h0_39" x1="0" x2="1" y1="0" y2="0"><stop offset="0.000" stop-color="#bf2f4a"/><stop offset="0.227" stop-color="#be2e4a"/><stop offset="0.247" stop-color="#f26a44"/><stop offset="0.293" stop-color="#f26a44"/><stop offset="0.313" stop-color="#be2e4a"/><stop offset="0.550" stop-color="#be2e4a"/><stop offset="0.700" stop-color="#bf2f4a"/><stop offset="0.820" stop-color="#c0304b"/><stop offset="1.000" stop-color="#bf2f4b"/></linearGradient><linearGradient id="h0_40" x1="0" x2="1" y1="0" y2="0"><stop offset="0.000" stop-color="#bd2e4a"/><stop offset="0.227" stop-color="#bc2d4a"/><stop offset="0.247" stop-color="#ee6445"/><stop offset="0.293" stop-color="#ee6445"/><stop offset="0.313" stop-color="#bc2d4a"/><stop offset="0.550" stop-color="#bc2d4a"/><stop offset="0.700" stop-color="#bd2e4a"/><stop offset="0.820" stop-color="#bf2f4a"/><stop offset="1.000" stop-color="#be2e4a"/></linearGradient><linearGradient id="h0_41" x1="0" x2="1" y1="0" y2="0"><stop offset="0.000" stop-color="#ba2c49"/><stop offset="0.227" stop-color="#b92b49"/><stop offset="0.247" stop-color="#e95c47"/><stop offset="0.293" stop-color="#e95c47"/><stop offset="0.313" stop-color="#b92b49"/><stop offset="0.550" stop-color="#b92b49"/><stop offset="0.700" stop-color="#bb2c4a"/><stop offset="0.820" stop-color="#bc2d4a"/><stop offset="1.000" stop-color="#bb2c4a"/></linearGradient><linearGradient id="h0_42" x1="0" x2="1" y1="0" y2="0"><stop offset="0.000" stop-color="#b72949"/><stop offset="0.227" stop-color="#b62949"/><stop offset="0.247" stop-color="#e2524a"/><stop offset="0.293" stop-color="#e2524a"/><stop offset="0.313" stop-color="#b62949"/><stop offset="0.550" stop-color="#b62949"/><stop offset="0.700" stop-color="#b72a49"/><stop offset="0.820" stop-color="#b92b49"/><stop offset="1.000" stop-color="#b82a49"/></linearGradient><linearGradient id="h0_43" x1="0" x2="1" y1="0" y2="0"><stop offset="0.000" stop-color="#b32748"/><stop offset="0.227" stop-color="#b32748"/><stop offset="0.247" stop-color="#db474d"/><stop offset="0.293" stop-color="#db474d"/><stop offset="0.313" stop-color="#b32748"/><stop offset="0.550" stop-color="#b32748"/><stop offset="0.700" stop-color="#b42848"/><stop offset="0.820" stop-color="#b52848"/><stop offset="1.000" stop-color="#b52848"/></linearGradient><linearGradient id="h0_44" x1="0" x2="1" y1="0" y2="0"><stop offset="0.000" stop-color="#b12547"/><stop offset="0.227" stop-color="#b02547"/><stop offset="0.247" stop-color="#d43e4f"/><stop offset="0.293" stop-color="#d43e4f"/><stop offset="0.313" stop-color="#b02547"/><stop offset="0.550" stop-color="#b02547"/><stop offset="0.700" stop-color="#b12648"/><stop offset="0.820" stop-color="#b22648"/><stop offset="1.000" stop-color="#b22648"/></linearGradient><linearGradient id="h0_45" x1="0" x2="1" y1="0" y2="0"><stop offset="0.000" stop-color="#ae2447"/><stop offset="0.227" stop-color="#ae2347"/><stop offset="0.247" stop-color="#c9364d"/><stop offset="0.293" stop-color="#c9364d"/><stop offset="0.313" stop-color="#ae2347"/><stop offset="0.550" stop-color="#ae2347"/><stop offset="0.700" stop-color="#af2447"/><stop offset="0.820" stop-color="#b02547"/><stop offset="1.000" stop-color="#af2447"/></linearGradient><linearGradient id="h0_46" x1="0" x2="1" y1="0" y2="0"><stop offset="0.000" stop-color="#ac2246"/><stop offset="0.227" stop-color="#ab2246"/><stop offset="0.247" stop-color="#be2e4a"/><stop offset="0.293" stop-color="#be2e4a"/><stop offset="0.313" stop-color="#ab2246"/><stop offset="0.550" stop-color="#ab2246"/><stop offset="0.700" stop-color="#ac2246"/><stop offset="0.820" stop-color="#ad2347"/><stop offset="1.000" stop-color="#ac2247"/></linearGradient><linearGradient id="h0_47" x1="0" x2="1" y1="0" y2="0"><stop offset="0.000" stop-color="#aa2146"/><stop offset="0.227" stop-color="#a92046"/><stop offset="0.247" stop-color="#b52848"/><stop offset="0.293" stop-color="#b52848"/><stop offset="0.313" stop-color="#a92046"/><stop offset="0.550" stop-color="#a92046"/><stop offset="0.700" stop-color="#aa2146"/><stop offset="0.820" stop-color="#aa2146"/><stop offset="1.000" stop-color="#aa2146"/></linearGradient><linearGradient id="h0_48" x1="0" x2="1" y1="0" y2="0"><stop offset="0.000" stop-color="#a92046"/><stop offset="0.227" stop-color="#a92046"/><stop offset="0.247" stop-color="#b22648"/><stop offset="0.293" stop-color="#b22648"/><stop offset="0.313" stop-color="#a92046"/><stop offset="0.550" stop-color="#a92046"/><stop offset="0.700" stop-color="#a92046"/><stop offset="0.820" stop-color="#aa2146"/><stop offset="1.000" stop-color="#a92046"/></linearGradient><linearGradient id="h0_49" x1="0" x2="1" y1="0" y2="0"><stop offset="0.000" stop-color="#a81f46"/><stop offset="0.227" stop-color="#a81f46"/><stop offset="0.247" stop-color="#af2447"/><stop offset="0.293" stop-color="#af2447"/><stop offset="0.313" stop-color="#a81f46"/><stop offset="0.550" stop-color="#a81f46"/><stop offset="0.700" stop-color="#a82046"/><stop offset="0.820" stop-color="#a92046"/><stop offset="1.000" stop-color="#a92046"/></linearGradient><linearGradient id="h0_50" x1="0" x2="1" y1="0" y2="0"><stop offset="0.000" stop-color="#a71f46"/><stop offset="0.227" stop-color="#a71f45"/><stop offset="0.247" stop-color="#ad2347"/><stop offset="0.293" stop-color="#ad2347"/><stop offset="0.313" stop-color="#a71f45"/><stop offset="0.550" stop-color="#a71f45"/><stop offset="0.700" stop-color="#a81f46"/><stop offset="0.820" stop-color="#a82046"/><stop offset="1.000" stop-color="#a81f46"/></linearGradient><linearGradient id="h0_51" x1="0" x2="1" y1="0" y2="0"><stop offset="0.000" stop-color="#a71e45"/><stop offset="0.227" stop-color="#a61e45"/><stop offset="0.247" stop-color="#aa2146"/><stop offset="0.293" stop-color="#aa2146"/><stop offset="0.313" stop-color="#a61e45"/><stop offset="0.550" stop-color="#a61e45"/><stop offset="0.700" stop-color="#a71f45"/><stop offset="0.820" stop-color="#a71f46"/><stop offset="1.000" stop-color="#a71f45"/></linearGradient><linearGradient id="h0_52" x1="0" x2="1" y1="0" y2="0"><stop offset="0.000" stop-color="#a61e45"/><stop offset="0.227" stop-color="#a61e45"/><stop offset="0.247" stop-color="#a81f46"/><stop offset="0.293" stop-color="#a81f46"/><stop offset="0.313" stop-color="#a61e45"/><stop offset="0.550" stop-color="#a61e45"/><stop offset="0.700" stop-color="#a61e45"/><stop offset="0.820" stop-color="#a71f45"/><stop offset="1.000" stop-color="#a71f45"/></linearGradient></defs>
<rect x="305.20" y="85.00" width="34.60" height="2.00" fill="url(#h0_0)" shape-rendering="crispEdges"/>
<rect x="305.20" y="86.00" width="34.60" height="2.00" fill="url(#h0_1)" shape-rendering="crispEdges"/>
<rect x="305.20" y="87.00" width="34.60" height="2.00" fill="url(#h0_2)" shape-rendering="crispEdges"/>
<rect x="305.20" y="88.00" width="34.60" height="2.00" fill="url(#h0_3)" shape-rendering="crispEdges"/>
<rect x="305.20" y="89.00" width="34.60" height="2.00" fill="url(#h0_4)" shape-rendering="crispEdges"/>
<rect x="305.20" y="90.00" width="34.60" height="2.00" fill="url(#h0_5)" shape-rendering="crispEdges"/>
<rect x="305.20" y="91.00" width="34.60" height="2.00" fill="url(#h0_6)" shape-rendering="crispEdges"/>
<rect x="305.20" y="92.00" width="34.60" height="2.00" fill="url(#h0_7)" shape-rendering="crispEdges"/>
<rect x="305.20" y="93.00" width="34.60" height="2.00" fill="url(#h0_8)" shape-rendering="crispEdges"/>
<rect x="305.20" y="94.00" width="34.60" height="2.00" fill="url(#h0_9)" shape-rendering="crispEdges"/>
<rect x="305.20" y="95.00" width="34.60" height="2.00" fill="url(#h0_10)" shape-rendering="crispEdges"/>
<rect x="305.20" y="96.00" width="34.60" height="2.00" fill="url(#h0_11)" shape-rendering="crispEdges"/>
<rect x="305.20" y="97.00" width="34.60" height="3.00" fill="url(#h0_12)" shape-rendering="crispEdges"/>
<rect x="305.20" y="99.00" width="34.60" height="3.00" fill="url(#h0_13)" shape-rendering="crispEdges"/>
<rect x="305.20" y="101.00" width="34.60" height="3.00" fill="url(#h0_14)" shape-rendering="crispEdges"/>
<rect x="305.20" y="103.00" width="34.60" height="3.00" fill="url(#h0_15)" shape-rendering="crispEdges"/>
<rect x="305.20" y="105.00" width="34.60" height="3.00" fill="url(#h0_16)" shape-rendering="crispEdges"/>
<rect x="305.20" y="107.00" width="34.60" height="3.00" fill="url(#h0_17)" shape-rendering="crispEdges"/>
<rect x="305.20" y="109.00" width="34.60" height="3.00" fill="url(#h0_18)" shape-rendering="crispEdges"/>
<rect x="305.20" y="111.00" width="34.60" height="3.00" fill="url(#h0_19)" shape-rendering="crispEdges"/>
<rect x="305.20" y="113.00" width="34.60" height="3.00" fill="url(#h0_20)" shape-rendering="crispEdges"/>
<rect x="305.20" y="115.00" width="34.60" height="3.00" fill="url(#h0_21)" shape-rendering="crispEdges"/>
<rect x="305.20" y="117.00" width="34.60" height="3.00" fill="url(#h0_22)" shape-rendering="crispEdges"/>
<rect x="305.20" y="119.00" width="34.60" height="3.00" fill="url(#h0_23)" shape-rendering="crispEdges"/>
<rect x="305.20" y="121.00" width="34.60" height="3.00" fill="url(#h0_24)" shape-rendering="crispEdges"/>
<rect x="305.20" y="123.00" width="34.60" height="3.00" fill="url(#h0_25)" shape-rendering="crispEdges"/>
<rect x="305.20" y="125.00" width="34.60" height="5.00" fill="url(#h0_26)" shape-rendering="crispEdges"/>
<rect x="305.20" y="129.00" width="34.60" height="5.00" fill="url(#h0_27)" shape-rendering="crispEdges"/>
<rect x="305.20" y="133.00" width="34.60" height="5.00" fill="url(#h0_28)" shape-rendering="crispEdges"/>
<rect x="305.20" y="137.00" width="34.60" height="5.00" fill="url(#h0_29)" shape-rendering="crispEdges"/>
<rect x="305.20" y="141.00" width="34.60" height="5.00" fill="url(#h0_30)" shape-rendering="crispEdges"/>
<rect x="305.20" y="145.00" width="34.60" height="5.00" fill="url(#h0_31)" shape-rendering="crispEdges"/>
<rect x="305.20" y="149.00" width="34.60" height="5.00" fill="url(#h0_32)" shape-rendering="crispEdges"/>
<rect x="305.20" y="153.00" width="34.60" height="5.00" fill="url(#h0_33)" shape-rendering="crispEdges"/>
<rect x="305.20" y="157.00" width="34.60" height="5.00" fill="url(#h0_34)" shape-rendering="crispEdges"/>
<rect x="305.20" y="161.00" width="34.60" height="5.00" fill="url(#h0_35)" shape-rendering="crispEdges"/>
<rect x="305.20" y="165.00" width="34.60" height="5.00" fill="url(#h0_36)" shape-rendering="crispEdges"/>
<rect x="305.20" y="169.00" width="34.60" height="5.00" fill="url(#h0_37)" shape-rendering="crispEdges"/>
<rect x="305.20" y="173.00" width="34.60" height="5.00" fill="url(#h0_38)" shape-rendering="crispEdges"/>
<rect x="305.20" y="177.00" width="34.60" height="5.00" fill="url(#h0_39)" shape-rendering="crispEdges"/>
<rect x="305.20" y="181.00" width="34.60" height="5.00" fill="url(#h0_40)" shape-rendering="crispEdges"/>
<rect x="305.20" y="185.00" width="34.60" height="9.00" fill="url(#h0_41)" shape-rendering="crispEdges"/>
<rect x="305.20" y="193.00" width="34.60" height="9.00" fill="url(#h0_42)" shape-rendering="crispEdges"/>
<rect x="305.20" y="201.00" width="34.60" height="9.00" fill="url(#h0_43)" shape-rendering="crispEdges"/>
<rect x="305.20" y="209.00" width="34.60" height="9.00" fill="url(#h0_44)" shape-rendering="crispEdges"/>
<rect x="305.20" y="217.00" width="34.60" height="9.00" fill="url(#h0_45)" shape-rendering="crispEdges"/>
<rect x="305.20" y="225.00" width="34.60" height="9.00" fill="url(#h0_46)" shape-rendering="crispEdges"/>
<rect x="305.20" y="233.00" width="34.60" height="9.00" fill="url(#h0_47)" shape-rendering="crispEdges"/>
<rect x="305.20" y="241.00" width="34.60" height="9.00" fill="url(#h0_48)" shape-rendering="crispEdges"/>
<rect x="305.20" y="249.00" width="34.60" height="9.00" fill="url(#h0_49)" shape-rendering="crispEdges"/>
<rect x="305.20" y="257.00" width="34.60" height="9.00" fill="url(#h0_50)" shape-rendering="crispEdges"/>
<rect x="305.20" y="265.00" width="34.60" height="9.00" fill="url(#h0_51)" shape-rendering="crispEdges"/>
<rect x="305.20" y="273.00" width="34.60" height="3.80" fill="url(#h0_52)" shape-rendering="crispEdges"/>
<rect x="305.40" y="85.20" width="34.20" height="191.40" fill="none" stroke="#505050" stroke-opacity="0.45" stroke-width="0.5"/>
<text x="306.93" y="280.20" font-size="2.8" fill="#666" text-anchor="middle">-3.0</text>
<text x="314.54" y="280.20" font-size="2.8" fill="#666" text-anchor="middle">TSS</text>
<text x="334.61" y="280.20" font-size="2.8" fill="#666" text-anchor="middle">TES:3kb</text>
<text x="322.50" y="284.00" font-size="2.8" fill="#666" text-anchor="middle">gene distance (bp)</text>
<text x="303.20" y="195.90" font-size="2.6" fill="#888" text-anchor="middle" transform="rotate(-90 303.20 195.90)">genes</text>
<rect x="305.00" y="290.00" width="34.80" height="3.00" fill="url(#spec)"/>
<text x="306.74" y="296.60" font-size="2.8" fill="#555" text-anchor="middle">0</text>
<text x="320.66" y="296.60" font-size="2.8" fill="#555" text-anchor="middle">200</text>
<text x="336.32" y="296.60" font-size="2.8" fill="#555" text-anchor="middle">400</text>
<rect x="352.50" y="46.50" width="47.00" height="253.00" fill="#fff" stroke="#e4e4e4" stroke-width="1"/>
<polyline points="359.80,78.50 366.00,78.00 367.20,75.00 368.20,71.70 369.20,75.50 369.90,77.50 373.00,78.30 382.70,78.30 385.00,77.30 390.00,77.30 392.80,77.80" fill="none" stroke="#cdd0f2" stroke-width="1.9" stroke-linejoin="round"/>
<polyline points="359.80,78.50 366.00,78.00 367.20,75.00 368.20,71.70 369.20,75.50 369.90,77.50 373.00,78.30 382.70,78.30 385.00,77.30 390.00,77.30 392.80,77.80" fill="none" stroke="#4f50c0" stroke-width="0.75" stroke-linejoin="round"/>
<rect x="359.80" y="51.10" width="33.00" height="27.90" fill="none" stroke="#9a9a9a" stroke-width="0.5"/>
<rect x="375.97" y="54.50" width="5.8" height="1.2" fill="#7070cc"/>
<text x="382.97" y="56.10" font-size="2.8" fill="#555">genes</text>
<text x="376.00" y="49.90" font-size="3.0" fill="#666" text-anchor="middle" textLength="41.28" lengthAdjust="spacingAndGlyphs">D10_Ser2Pol2_Merged_hg19</text>
<text x="358.30" y="52.70" font-size="2.8" fill="#555" text-anchor="end">150</text>
<rect x="358.80" y="51.45" width="1" height="0.5" fill="#777"/>
<text x="358.30" y="62.80" font-size="2.8" fill="#555" text-anchor="end">100</text>
<rect x="358.80" y="61.55" width="1" height="0.5" fill="#777"/>
<text x="358.30" y="72.00" font-size="2.8" fill="#555" text-anchor="end">50</text>
<rect x="358.80" y="70.75" width="1" height="0.5" fill="#777"/>
<text x="360.46" y="83.00" font-size="2.8" fill="#555" text-anchor="middle">-3.0</text>
<text x="368.71" y="83.00" font-size="2.8" fill="#555" text-anchor="middle">TSS</text>
<text x="387.85" y="83.00" font-size="2.8" fill="#555" text-anchor="middle">TES:3kb</text>
<defs><linearGradient id="h1_0" x1="0" x2="1" y1="0" y2="0"><stop offset="0.000" stop-color="#fee491"/><stop offset="0.214" stop-color="#fee08b"/><stop offset="0.235" stop-color="#378ebb"/><stop offset="0.301" stop-color="#378ebb"/><stop offset="0.322" stop-color="#e8f69c"/><stop offset="0.550" stop-color="#e8f69c"/><stop offset="0.700" stop-color="#e0f399"/><stop offset="0.820" stop-color="#d4ee9c"/><stop offset="1.000" stop-color="#dff299"/></linearGradient><linearGradient id="h1_1" x1="0" x2="1" y1="0" y2="0"><stop offset="0.000" stop-color="#fecf7d"/><stop offset="0.216" stop-color="#feca78"/><stop offset="0.237" stop-color="#4299b6"/><stop offset="0.299" stop-color="#4299b6"/><stop offset="0.320" stop-color="#f7fcb3"/><stop offset="0.550" stop-color="#f7fcb3"/><stop offset="0.700" stop-color="#f6fcb1"/><stop offset="0.820" stop-color="#f5fbaf"/><stop offset="1.000" stop-color="#f9fdb6"/></linearGradient><linearGradient id="h1_2" x1="0" x2="1" y1="0" y2="0"><stop offset="0.000" stop-color="#fdba6b"/><stop offset="0.218" stop-color="#fdb667"/><stop offset="0.239" stop-color="#51abaf"/><stop offset="0.297" stop-color="#51abaf"/><stop offset="0.318" stop-color="#fff7b2"/><stop offset="0.550" stop-color="#fff7b2"/><stop offset="0.700" stop-color="#fffab7"/><stop offset="0.820" stop-color="#fffdbc"/><stop offset="1.000" stop-color="#fff9b5"/></linearGradient><linearGradient id="h1_3" x1="0" x2="1" y1="0" y2="0"><stop offset="0.000" stop-color="#fdad61"/><stop offset="0.220" stop-color="#fca85e"/><stop offset="0.241" stop-color="#66c2a5"/><stop offset="0.295" stop-color="#66c2a5"/><stop offset="0.316" stop-color="#fee99b"/><stop offset="0.550" stop-color="#fee99b"/><stop offset="0.700" stop-color="#feec9e"/><stop offset="0.820" stop-color="#feeea2"/><stop offset="1.000" stop-color="#feea9b"/></linearGradient><linearGradient id="h1_4" x1="0" x2="1" y1="0" y2="0"><stop offset="0.000" stop-color="#fba35c"/><stop offset="0.222" stop-color="#fb9e5a"/><stop offset="0.244" stop-color="#7bcaa5"/><stop offset="0.292" stop-color="#7bcaa5"/><stop offset="0.314" stop-color="#fedb87"/><stop offset="0.550" stop-color="#fedb87"/><stop offset="0.700" stop-color="#fede89"/><stop offset="0.820" stop-color="#fee08b"/><stop offset="1.000" stop-color="#feda86"/></linearGradient><linearGradient id="h1_5" x1="0" x2="1" y1="0" y2="0"><stop offset="0.000" stop-color="#fb9c59"/><stop offset="0.223" stop-color="#fa9757"/><stop offset="0.244" stop-color="#85cea5"/><stop offset="0.292" stop-color="#85cea5"/><stop offset="0.313" stop-color="#fecc7a"/><stop offset="0.550" stop-color="#fecc7a"/><stop offset="0.700" stop-color="#fece7c"/><stop offset="0.820" stop-color="#fed17e"/><stop offset="1.000" stop-color="#fecb7a"/></linearGradient><linearGradient id="h1_6" x1="0" x2="1" y1="0" y2="0"><stop offset="0.000" stop-color="#fa9656"/><stop offset="0.223" stop-color="#f99154"/><stop offset="0.244" stop-color="#8cd1a4"/><stop offset="0.292" stop-color="#8cd1a4"/><stop offset="0.313" stop-color="#fdc272"/><stop offset="0.550" stop-color="#fdc272"/><stop offset="0.700" stop-color="#fdc474"/><stop offset="0.820" stop-color="#fec776"/><stop offset="1.000" stop-color="#fdc272"/></linearGradient><linearGradient id="h1_7" x1="0" x2="1" y1="0" y2="0"><stop offset="0.000" stop-color="#f98f53"/><stop offset="0.223" stop-color="#f88a50"/><stop offset="0.244" stop-color="#96d5a4"/><stop offset="0.292" stop-color="#96d5a4"/><stop offset="0.313" stop-color="#fdb869"/><stop offset="0.550" stop-color="#fdb869"/><stop offset="0.700" stop-color="#fdba6c"/><stop offset="0.820" stop-color="#fdbd6e"/><stop offset="1.000" stop-color="#fdb869"/></linearGradient><linearGradient id="h1_8" x1="0" x2="1" y1="0" y2="0"><stop offset="0.000" stop-color="#f88850"/><stop offset="0.223" stop-color="#f7844d"/><stop offset="0.244" stop-color="#a4daa4"/><stop offset="0.292" stop-color="#a4daa4"/><stop offset="0.313" stop-color="#fdaf62"/><stop offset="0.550" stop-color="#fdaf62"/><stop offset="0.700" stop-color="#fdb265"/><stop offset="0.820" stop-color="#fdb667"/><stop offset="1.000" stop-color="#fdb163"/></linearGradient><linearGradient id="h1_9" x1="0" x2="1" y1="0" y2="0"><stop offset="0.000" stop-color="#f7824d"/><stop offset="0.223" stop-color="#f67d4a"/><stop offset="0.244" stop-color="#b1dfa3"/><stop offset="0.292" stop-color="#b1dfa3"/><stop offset="0.313" stop-color="#fca65d"/><stop offset="0.550" stop-color="#fca65d"/><stop offset="0.700" stop-color="#fdac60"/><stop offset="0.820" stop-color="#fdb063"/><stop offset="1.000" stop-color="#fdab60"/></linearGradient><linearGradient id="h1_10" x1="0" x2="1" y1="0" y2="0"><stop offset="0.000" stop-color="#f67b4a"/><stop offset="0.223" stop-color="#f57748"/><stop offset="0.244" stop-color="#bbe4a1"/><stop offset="0.292" stop-color="#bbe4a1"/><stop offset="0.313" stop-color="#fb9e5a"/><stop offset="0.550" stop-color="#fb9e5a"/><stop offset="0.700" stop-color="#fca55d"/><stop offset="0.820" stop-color="#fdab60"/><stop offset="1.000" stop-color="#fca55d"/></linearGradient><linearGradient id="h1_11" x1="0" x2="1" y1="0" y2="0"><stop offset="0.000" stop-color="#f57647"/><stop offset="0.223" stop-color="#f57245"/><stop offset="0.244" stop-color="#c4e79f"/><stop offset="0.292" stop-color="#c4e79f"/><stop offset="0.313" stop-color="#fa9957"/><stop offset="0.550" stop-color="#fa9957"/><stop offset="0.700" stop-color="#fb9f5a"/><stop offset="0.820" stop-color="#fca65d"/><stop offset="1.000" stop-color="#fba05b"/></linearGradient><linearGradient id="h1_12" x1="0" x2="1" y1="0" y2="0"><stop offset="0.000" stop-color="#f47145"/><stop offset="0.223" stop-color="#f46d43"/><stop offset="0.244" stop-color="#d1ed9c"/><stop offset="0.292" stop-color="#d1ed9c"/><stop offset="0.313" stop-color="#f99053"/><stop offset="0.550" stop-color="#f99053"/><stop offset="0.700" stop-color="#fa9756"/><stop offset="0.820" stop-color="#fb9d59"/><stop offset="1.000" stop-color="#fa9857"/></linearGradient><linearGradient id="h1_13" x1="0" x2="1" y1="0" y2="0"><stop offset="0.000" stop-color="#f36c43"/><stop offset="0.223" stop-color="#f26944"/><stop offset="0.244" stop-color="#e2f399"/><stop offset="0.292" stop-color="#e2f399"/><stop offset="0.313" stop-color="#f8874f"/><stop offset="0.550" stop-color="#f8874f"/><stop offset="0.700" stop-color="#f88e52"/><stop offset="0.820" stop-color="#f99455"/><stop offset="1.000" stop-color="#f98f53"/></linearGradient><linearGradient id="h1_14" x1="0" x2="1" y1="0" y2="0"><stop offset="0.000" stop-color="#f16944"/><stop offset="0.223" stop-color="#f06645"/><stop offset="0.244" stop-color="#eaf79f"/><stop offset="0.292" stop-color="#eaf79f"/><stop offset="0.313" stop-color="#f77f4b"/><stop offset="0.550" stop-color="#f77f4b"/><stop offset="0.700" stop-color="#f7864e"/><stop offset="0.820" stop-color="#f88c51"/><stop offset="1.000" stop-color="#f8874f"/></linearGradient><linearGradient id="h1_15" x1="0" x2="1" y1="0" y2="0"><stop offset="0.000" stop-color="#ef6645"/><stop offset="0.223" stop-color="#ee6345"/><stop offset="0.244" stop-color="#f1f9a9"/><stop offset="0.292" stop-color="#f1f9a9"/><stop offset="0.313" stop-color="#f57748"/><stop offset="0.550" stop-color="#f57748"/><stop offset="0.700" stop-color="#f67e4b"/><stop offset="0.820" stop-color="#f7844e"/><stop offset="1.000" stop-color="#f7804c"/></linearGradient><linearGradient id="h1_16" x1="0" x2="1" y1="0" y2="0"><stop offset="0.000" stop-color="#ee6445"/><stop offset="0.223" stop-color="#ec6146"/><stop offset="0.244" stop-color="#f7fcb2"/><stop offset="0.292" stop-color="#f7fcb2"/><stop offset="0.313" stop-color="#f47044"/><stop offset="0.550" stop-color="#f47044"/><stop offset="0.700" stop-color="#f57647"/><stop offset="0.820" stop-color="#f67d4a"/><stop offset="1.000" stop-color="#f67848"/></linearGradient><linearGradient id="h1_17" x1="0" x2="1" y1="0" y2="0"><stop offset="0.000" stop-color="#ec6146"/><stop offset="0.223" stop-color="#eb5f47"/><stop offset="0.244" stop-color="#fdfebc"/><stop offset="0.292" stop-color="#fdfebc"/><stop offset="0.313" stop-color="#f26a44"/><stop offset="0.550" stop-color="#f26a44"/><stop offset="0.700" stop-color="#f46e44"/><stop offset="0.820" stop-color="#f57446"/><stop offset="1.000" stop-color="#f47044"/></linearGradient><linearGradient id="h1_18" x1="0" x2="1" y1="0" y2="0"><stop offset="0.000" stop-color="#ea5e47"/><stop offset="0.223" stop-color="#e95c47"/><stop offset="0.244" stop-color="#fffab6"/><stop offset="0.292" stop-color="#fffab6"/><stop offset="0.313" stop-color="#ef6645"/><stop offset="0.550" stop-color="#ef6645"/><stop offset="0.700" stop-color="#f16944"/><stop offset="0.820" stop-color="#f36c43"/><stop offset="1.000" stop-color="#f16944"/></linearGradient><linearGradient id="h1_19" x1="0" x2="1" y1="0" y2="0"><stop offset="0.000" stop-color="#e85b48"/><stop offset="0.223" stop-color="#e75948"/><stop offset="0.244" stop-color="#fff4ac"/><stop offset="0.292" stop-color="#fff4ac"/><stop offset="0.313" stop-color="#ec6146"/><stop offset="0.550" stop-color="#ec6146"/><stop offset="0.700" stop-color="#ee6445"/><stop offset="0.820" stop-color="#ef6645"/><stop offset="1.000" stop-color="#ee6345"/></linearGradient><linearGradient id="h1_20" x1="0" x2="1" y1="0" y2="0"><stop offset="0.000" stop-color="#e65848"/><stop offset="0.223" stop-color="#e55649"/><stop offset="0.244" stop-color="#fef0a5"/><stop offset="0.292" stop-color="#fef0a5"/><stop offset="0.313" stop-color="#e95d47"/><stop offset="0.550" stop-color="#e95d47"/><stop offset="0.700" stop-color="#eb5f46"/><stop offset="0.820" stop-color="#ed6246"/><stop offset="1.000" stop-color="#eb5f47"/></linearGradient><linearGradient id="h1_21" x1="0" x2="1" y1="0" y2="0"><stop offset="0.000" stop-color="#e45549"/><stop offset="0.223" stop-color="#e3534a"/><stop offset="0.244" stop-color="#feeb9e"/><stop offset="0.292" stop-color="#feeb9e"/><stop offset="0.313" stop-color="#e75948"/><stop offset="0.550" stop-color="#e75948"/><stop offset="0.700" stop-color="#e85b48"/><stop offset="0.820" stop-color="#ea5d47"/><stop offset="1.000" stop-color="#e85b48"/></linearGradient><linearGradient id="h1_22" x1="0" x2="1" y1="0" y2="0"><stop offset="0.000" stop-color="#e3534a"/><stop offset="0.223" stop-color="#e1514a"/><stop offset="0.244" stop-color="#fee898"/><stop offset="0.292" stop-color="#fee898"/><stop offset="0.313" stop-color="#e45549"/><stop offset="0.550" stop-color="#e45549"/><stop offset="0.700" stop-color="#e65749"/><stop offset="0.820" stop-color="#e75a48"/><stop offset="1.000" stop-color="#e65749"/></linearGradient><linearGradient id="h1_23" x1="0" x2="1" y1="0" y2="0"><stop offset="0.000" stop-color="#e1504a"/><stop offset="0.223" stop-color="#e04e4b"/><stop offset="0.244" stop-color="#fee593"/><stop offset="0.292" stop-color="#fee593"/><stop offset="0.313" stop-color="#e2524a"/><stop offset="0.550" stop-color="#e2524a"/><stop offset="0.700" stop-color="#e45449"/><stop offset="0.820" stop-color="#e55749"/><stop offset="1.000" stop-color="#e45549"/></linearGradient><linearGradient id="h1_24" x1="0" x2="1" y1="0" y2="0"><stop offset="0.000" stop-color="#df4e4b"/><stop offset="0.223" stop-color="#de4c4b"/><stop offset="0.244" stop-color="#fee28e"/><stop offset="0.292" stop-color="#fee28e"/><stop offset="0.313" stop-color="#e04f4b"/><stop offset="0.550" stop-color="#e04f4b"/><stop offset="0.700" stop-color="#e2514a"/><stop offset="0.820" stop-color="#e35449"/><stop offset="1.000" stop-color="#e2524a"/></linearGradient><linearGradient id="h1_25" x1="0" x2="1" y1="0" y2="0"><stop offset="0.000" stop-color="#de4b4c"/><stop offset="0.223" stop-color="#dd4a4c"/><stop offset="0.244" stop-color="#fede89"/><stop offset="0.292" stop-color="#fede89"/><stop offset="0.313" stop-color="#de4c4b"/><stop offset="0.550" stop-color="#de4c4b"/><stop offset="0.700" stop-color="#e04f4b"/><stop offset="0.820" stop-color="#e1514a"/><stop offset="1.000" stop-color="#e04f4b"/></linearGradient><linearGradient id="h1_26" x1="0" x2="1" y1="0" y2="0"><stop offset="0.000" stop-color="#dc494c"/><stop offset="0.223" stop-color="#db474d"/><stop offset="0.244" stop-color="#fed783"/><stop offset="0.292" stop-color="#fed783"/><stop offset="0.313" stop-color="#dc494c"/><stop offset="0.550" stop-color="#dc494c"/><stop offset="0.700" stop-color="#de4b4c"/><stop offset="0.820" stop-color="#df4d4b"/><stop offset="1.000" stop-color="#de4b4c"/></linearGradient><linearGradient id="h1_27" x1="0" x2="1" y1="0" y2="0"><stop offset="0.000" stop-color="#db474d"/><stop offset="0.223" stop-color="#da464d"/><stop offset="0.244" stop-color="#fecf7d"/><stop offset="0.292" stop-color="#fecf7d"/><stop offset="0.313" stop-color="#db464d"/><stop offset="0.550" stop-color="#db464d"/><stop offset="0.700" stop-color="#db474d"/><stop offset="0.820" stop-color="#dc484c"/><stop offset="1.000" stop-color="#db474d"/></linearGradient><linearGradient id="h1_28" x1="0" x2="1" y1="0" y2="0"><stop offset="0.000" stop-color="#da454d"/><stop offset="0.223" stop-color="#d9444e"/><stop offset="0.244" stop-color="#fec776"/><stop offset="0.292" stop-color="#fec776"/><stop offset="0.313" stop-color="#d9444e"/><stop offset="0.550" stop-color="#d9444e"/><stop offset="0.700" stop-color="#d9444e"/><stop offset="0.820" stop-color="#d9444e"/><stop offset="1.000" stop-color="#d8424e"/></linearGradient><linearGradient id="h1_29" x1="0" x2="1" y1="0" y2="0"><stop offset="0.000" stop-color="#d8424e"/><stop offset="0.223" stop-color="#d7414e"/><stop offset="0.244" stop-color="#fdbf6f"/><stop offset="0.292" stop-color="#fdbf6f"/><stop offset="0.313" stop-color="#d7414e"/><stop offset="0.550" stop-color="#d7414e"/><stop offset="0.700" stop-color="#d7414e"/><stop offset="0.820" stop-color="#d7414e"/><stop offset="1.000" stop-color="#d63f4f"/></linearGradient><linearGradient id="h1_30" x1="0" x2="1" y1="0" y2="0"><stop offset="0.000" stop-color="#d63f4f"/><stop offset="0.223" stop-color="#d53e4f"/><stop offset="0.244" stop-color="#fdb769"/><stop offset="0.292" stop-color="#fdb769"/><stop offset="0.313" stop-color="#d53e4f"/><stop offset="0.550" stop-color="#d53e4f"/><stop offset="0.700" stop-color="#d53e4f"/><stop offset="0.820" stop-color="#d53e4f"/><stop offset="1.000" stop-color="#d33d4f"/></linearGradient><linearGradient id="h1_31" x1="0" x2="1" y1="0" y2="0"><stop offset="0.000" stop-color="#d33d4f"/><stop offset="0.223" stop-color="#d23c4e"/><stop offset="0.244" stop-color="#fdb062"/><stop offset="0.292" stop-color="#fdb062"/><stop offset="0.313" stop-color="#d23c4e"/><stop offset="0.550" stop-color="#d23c4e"/><stop offset="0.700" stop-color="#d23c4e"/><stop offset="0.820" stop-color="#d23c4e"/><stop offset="1.000" stop-color="#d03b4e"/></linearGradient><linearGradient id="h1_32" x1="0" x2="1" y1="0" y2="0"><stop offset="0.000" stop-color="#d03b4e"/><stop offset="0.223" stop-color="#cf3a4e"/><stop offset="0.244" stop-color="#fca85e"/><stop offset="0.292" stop-color="#fca85e"/><stop offset="0.313" stop-color="#cf3a4e"/><stop offset="0.550" stop-color="#cf3a4e"/><stop offset="0.700" stop-color="#cf3a4e"/><stop offset="0.820" stop-color="#cf3a4e"/><stop offset="1.000" stop-color="#ce394d"/></linearGradient><linearGradient id="h1_33" x1="0" x2="1" y1="0" y2="0"><stop offset="0.000" stop-color="#cd394d"/><stop offset="0.223" stop-color="#cc384d"/><stop offset="0.244" stop-color="#fb9f5a"/><stop offset="0.292" stop-color="#fb9f5a"/><stop offset="0.313" stop-color="#cc384d"/><stop offset="0.550" stop-color="#cc384d"/><stop offset="0.700" stop-color="#cc384d"/><stop offset="0.820" stop-color="#cc384d"/><stop offset="1.000" stop-color="#cb374d"/></linearGradient><linearGradient id="h1_34" x1="0" x2="1" y1="0" y2="0"><stop offset="0.000" stop-color="#ca374d"/><stop offset="0.223" stop-color="#c9364d"/><stop offset="0.244" stop-color="#fa9656"/><stop offset="0.292" stop-color="#fa9656"/><stop offset="0.313" stop-color="#c9364d"/><stop offset="0.550" stop-color="#c9364d"/><stop offset="0.700" stop-color="#c9364d"/><stop offset="0.820" stop-color="#c9364d"/><stop offset="1.000" stop-color="#c8354c"/></linearGradient><linearGradient id="h1_35" x1="0" x2="1" y1="0" y2="0"><stop offset="0.000" stop-color="#c8354c"/><stop offset="0.223" stop-color="#c7344c"/><stop offset="0.244" stop-color="#f98e52"/><stop offset="0.292" stop-color="#f98e52"/><stop offset="0.313" stop-color="#c7344c"/><stop offset="0.550" stop-color="#c7344c"/><stop offset="0.700" stop-color="#c7344c"/><stop offset="0.820" stop-color="#c7344c"/><stop offset="1.000" stop-color="#c5334c"/></linearGradient><linearGradient id="h1_36" x1="0" x2="1" y1="0" y2="0"><stop offset="0.000" stop-color="#c5334c"/><stop offset="0.223" stop-color="#c4334c"/><stop offset="0.244" stop-color="#f8864f"/><stop offset="0.292" stop-color="#f8864f"/><stop offset="0.313" stop-color="#c4334c"/><stop offset="0.550" stop-color="#c4334c"/><stop offset="0.700" stop-color="#c4334c"/><stop offset="0.820" stop-color="#c4334c"/><stop offset="1.000" stop-color="#c3324b"/></linearGradient><linearGradient id="h1_37" x1="0" x2="1" y1="0" y2="0"><stop offset="0.000" stop-color="#c3324b"/><stop offset="0.223" stop-color="#c2314b"/><stop offset="0.244" stop-color="#f67f4b"/><stop offset="0.292" stop-color="#f67f4b"/><stop offset="0.313" stop-color="#c2314b"/><stop offset="0.550" stop-color="#c2314b"/><stop offset="0.700" stop-color="#c2314b"/><stop offset="0.820" stop-color="#c2314b"/><stop offset="1.000" stop-color="#c1314b"/></linearGradient><linearGradient id="h1_38" x1="0" x2="1" y1="0" y2="0"><stop offset="0.000" stop-color="#c1304b"/><stop offset="0.223" stop-color="#c0304b"/><stop offset="0.244" stop-color="#f57748"/><stop offset="0.292" stop-color="#f57748"/><stop offset="0.313" stop-color="#c0304b"/><stop offset="0.550" stop-color="#c0304b"/><stop offset="0.700" stop-color="#c0304b"/><stop offset="0.820" stop-color="#c0304b"/><stop offset="1.000" stop-color="#bf2f4a"/></linearGradient><linearGradient id="h1_39" x1="0" x2="1" y1="0" y2="0"><stop offset="0.000" stop-color="#bf2f4a"/><stop offset="0.223" stop-color="#be2e4a"/><stop offset="0.244" stop-color="#f46f44"/><stop offset="0.292" stop-color="#f46f44"/><stop offset="0.313" stop-color="#be2e4a"/><stop offset="0.550" stop-color="#be2e4a"/><stop offset="0.700" stop-color="#be2e4a"/><stop offset="0.820" stop-color="#be2e4a"/><stop offset="1.000" stop-color="#bd2e4a"/></linearGradient><linearGradient id="h1_40" x1="0" x2="1" y1="0" y2="0"><stop offset="0.000" stop-color="#bd2e4a"/><stop offset="0.223" stop-color="#bc2d4a"/><stop offset="0.244" stop-color="#f16844"/><stop offset="0.292" stop-color="#f16844"/><stop offset="0.313" stop-color="#bc2d4a"/><stop offset="0.550" stop-color="#bc2d4a"/><stop offset="0.700" stop-color="#bc2d4a"/><stop offset="0.820" stop-color="#bc2d4a"/><stop offset="1.000" stop-color="#bb2c4a"/></linearGradient><linearGradient id="h1_41" x1="0" x2="1" y1="0" y2="0"><stop offset="0.000" stop-color="#ba2c49"/><stop offset="0.223" stop-color="#b92b49"/><stop offset="0.244" stop-color="#eb5f46"/><stop offset="0.292" stop-color="#eb5f46"/><stop offset="0.313" stop-color="#b92b49"/><stop offset="0.550" stop-color="#b92b49"/><stop offset="0.700" stop-color="#b92b49"/><stop offset="0.820" stop-color="#b92b49"/><stop offset="1.000" stop-color="#b92b49"/></linearGradient><linearGradient id="h1_42" x1="0" x2="1" y1="0" y2="0"><stop offset="0.000" stop-color="#b72949"/><stop offset="0.223" stop-color="#b62949"/><stop offset="0.244" stop-color="#e3534a"/><stop offset="0.292" stop-color="#e3534a"/><stop offset="0.313" stop-color="#b62949"/><stop offset="0.550" stop-color="#b62949"/><stop offset="0.700" stop-color="#b62949"/><stop offset="0.820" stop-color="#b62949"/><stop offset="1.000" stop-color="#b52848"/></linearGradient><linearGradient id="h1_43" x1="0" x2="1" y1="0" y2="0"><stop offset="0.000" stop-color="#b32748"/><stop offset="0.223" stop-color="#b32748"/><stop offset="0.244" stop-color="#db474d"/><stop offset="0.292" stop-color="#db474d"/><stop offset="0.313" stop-color="#b32748"/><stop offset="0.550" stop-color="#b32748"/><stop offset="0.700" stop-color="#b32748"/><stop offset="0.820" stop-color="#b32748"/><stop offset="1.000" stop-color="#b22648"/></linearGradient><linearGradient id="h1_44" x1="0" x2="1" y1="0" y2="0"><stop offset="0.000" stop-color="#b12547"/><stop offset="0.223" stop-color="#b02547"/><stop offset="0.244" stop-color="#d43e4f"/><stop offset="0.292" stop-color="#d43e4f"/><stop offset="0.313" stop-color="#b02547"/><stop offset="0.550" stop-color="#b02547"/><stop offset="0.700" stop-color="#b02547"/><stop offset="0.820" stop-color="#b02547"/><stop offset="1.000" stop-color="#b02547"/></linearGradient><linearGradient id="h1_45" x1="0" x2="1" y1="0" y2="0"><stop offset="0.000" stop-color="#ae2447"/><stop offset="0.223" stop-color="#ae2347"/><stop offset="0.244" stop-color="#c9364d"/><stop offset="0.292" stop-color="#c9364d"/><stop offset="0.313" stop-color="#ae2347"/><stop offset="0.550" stop-color="#ae2347"/><stop offset="0.700" stop-color="#ae2347"/><stop offset="0.820" stop-color="#ae2347"/><stop offset="1.000" stop-color="#ad2347"/></linearGradient><linearGradient id="h1_46" x1="0" x2="1" y1="0" y2="0"><stop offset="0.000" stop-color="#ac2246"/><stop offset="0.223" stop-color="#ab2246"/><stop offset="0.244" stop-color="#be2e4a"/><stop offset="0.292" stop-color="#be2e4a"/><stop offset="0.313" stop-color="#ab2246"/><stop offset="0.550" stop-color="#ab2246"/><stop offset="0.700" stop-color="#ab2246"/><stop offset="0.820" stop-color="#ab2246"/><stop offset="1.000" stop-color="#ab2146"/></linearGradient><linearGradient id="h1_47" x1="0" x2="1" y1="0" y2="0"><stop offset="0.000" stop-color="#aa2146"/><stop offset="0.223" stop-color="#a92046"/><stop offset="0.244" stop-color="#b52848"/><stop offset="0.292" stop-color="#b52848"/><stop offset="0.313" stop-color="#a92046"/><stop offset="0.550" stop-color="#a92046"/><stop offset="0.700" stop-color="#a92046"/><stop offset="0.820" stop-color="#a92046"/><stop offset="1.000" stop-color="#a92046"/></linearGradient><linearGradient id="h1_48" x1="0" x2="1" y1="0" y2="0"><stop offset="0.000" stop-color="#a92046"/><stop offset="0.223" stop-color="#a92046"/><stop offset="0.244" stop-color="#b22648"/><stop offset="0.292" stop-color="#b22648"/><stop offset="0.313" stop-color="#a92046"/><stop offset="0.550" stop-color="#a92046"/><stop offset="0.700" stop-color="#a92046"/><stop offset="0.820" stop-color="#a92046"/><stop offset="1.000" stop-color="#a82046"/></linearGradient><linearGradient id="h1_49" x1="0" x2="1" y1="0" y2="0"><stop offset="0.000" stop-color="#a81f46"/><stop offset="0.223" stop-color="#a81f46"/><stop offset="0.244" stop-color="#af2447"/><stop offset="0.292" stop-color="#af2447"/><stop offset="0.313" stop-color="#a81f46"/><stop offset="0.550" stop-color="#a81f46"/><stop offset="0.700" stop-color="#a81f46"/><stop offset="0.820" stop-color="#a81f46"/><stop offset="1.000" stop-color="#a81f46"/></linearGradient><linearGradient id="h1_50" x1="0" x2="1" y1="0" y2="0"><stop offset="0.000" stop-color="#a71f46"/><stop offset="0.223" stop-color="#a71f45"/><stop offset="0.244" stop-color="#ad2347"/><stop offset="0.292" stop-color="#ad2347"/><stop offset="0.313" stop-color="#a71f45"/><stop offset="0.550" stop-color="#a71f45"/><stop offset="0.700" stop-color="#a71f45"/><stop offset="0.820" stop-color="#a71f45"/><stop offset="1.000" stop-color="#a71f45"/></linearGradient><linearGradient id="h1_51" x1="0" x2="1" y1="0" y2="0"><stop offset="0.000" stop-color="#a71e45"/><stop offset="0.223" stop-color="#a61e45"/><stop offset="0.244" stop-color="#aa2146"/><stop offset="0.292" stop-color="#aa2146"/><stop offset="0.313" stop-color="#a61e45"/><stop offset="0.550" stop-color="#a61e45"/><stop offset="0.700" stop-color="#a61e45"/><stop offset="0.820" stop-color="#a61e45"/><stop offset="1.000" stop-color="#a61e45"/></linearGradient><linearGradient id="h1_52" x1="0" x2="1" y1="0" y2="0"><stop offset="0.000" stop-color="#a61e45"/><stop offset="0.223" stop-color="#a61e45"/><stop offset="0.244" stop-color="#a81f46"/><stop offset="0.292" stop-color="#a81f46"/><stop offset="0.313" stop-color="#a61e45"/><stop offset="0.550" stop-color="#a61e45"/><stop offset="0.700" stop-color="#a61e45"/><stop offset="0.820" stop-color="#a61e45"/><stop offset="1.000" stop-color="#a61e45"/></linearGradient></defs>
<rect x="359.60" y="85.00" width="33.00" height="2.00" fill="url(#h1_0)" shape-rendering="crispEdges"/>
<rect x="359.60" y="86.00" width="33.00" height="2.00" fill="url(#h1_1)" shape-rendering="crispEdges"/>
<rect x="359.60" y="87.00" width="33.00" height="2.00" fill="url(#h1_2)" shape-rendering="crispEdges"/>
<rect x="359.60" y="88.00" width="33.00" height="2.00" fill="url(#h1_3)" shape-rendering="crispEdges"/>
<rect x="359.60" y="89.00" width="33.00" height="2.00" fill="url(#h1_4)" shape-rendering="crispEdges"/>
<rect x="359.60" y="90.00" width="33.00" height="2.00" fill="url(#h1_5)" shape-rendering="crispEdges"/>
<rect x="359.60" y="91.00" width="33.00" height="2.00" fill="url(#h1_6)" shape-rendering="crispEdges"/>
<rect x="359.60" y="92.00" width="33.00" height="2.00" fill="url(#h1_7)" shape-rendering="crispEdges"/>
<rect x="359.60" y="93.00" width="33.00" height="2.00" fill="url(#h1_8)" shape-rendering="crispEdges"/>
<rect x="359.60" y="94.00" width="33.00" height="2.00" fill="url(#h1_9)" shape-rendering="crispEdges"/>
<rect x="359.60" y="95.00" width="33.00" height="2.00" fill="url(#h1_10)" shape-rendering="crispEdges"/>
<rect x="359.60" y="96.00" width="33.00" height="2.00" fill="url(#h1_11)" shape-rendering="crispEdges"/>
<rect x="359.60" y="97.00" width="33.00" height="3.00" fill="url(#h1_12)" shape-rendering="crispEdges"/>
<rect x="359.60" y="99.00" width="33.00" height="3.00" fill="url(#h1_13)" shape-rendering="crispEdges"/>
<rect x="359.60" y="101.00" width="33.00" height="3.00" fill="url(#h1_14)" shape-rendering="crispEdges"/>
<rect x="359.60" y="103.00" width="33.00" height="3.00" fill="url(#h1_15)" shape-rendering="crispEdges"/>
<rect x="359.60" y="105.00" width="33.00" height="3.00" fill="url(#h1_16)" shape-rendering="crispEdges"/>
<rect x="359.60" y="107.00" width="33.00" height="3.00" fill="url(#h1_17)" shape-rendering="crispEdges"/>
<rect x="359.60" y="109.00" width="33.00" height="3.00" fill="url(#h1_18)" shape-rendering="crispEdges"/>
<rect x="359.60" y="111.00" width="33.00" height="3.00" fill="url(#h1_19)" shape-rendering="crispEdges"/>
<rect x="359.60" y="113.00" width="33.00" height="3.00" fill="url(#h1_20)" shape-rendering="crispEdges"/>
<rect x="359.60" y="115.00" width="33.00" height="3.00" fill="url(#h1_21)" shape-rendering="crispEdges"/>
<rect x="359.60" y="117.00" width="33.00" height="3.00" fill="url(#h1_22)" shape-rendering="crispEdges"/>
<rect x="359.60" y="119.00" width="33.00" height="3.00" fill="url(#h1_23)" shape-rendering="crispEdges"/>
<rect x="359.60" y="121.00" width="33.00" height="3.00" fill="url(#h1_24)" shape-rendering="crispEdges"/>
<rect x="359.60" y="123.00" width="33.00" height="3.00" fill="url(#h1_25)" shape-rendering="crispEdges"/>
<rect x="359.60" y="125.00" width="33.00" height="5.00" fill="url(#h1_26)" shape-rendering="crispEdges"/>
<rect x="359.60" y="129.00" width="33.00" height="5.00" fill="url(#h1_27)" shape-rendering="crispEdges"/>
<rect x="359.60" y="133.00" width="33.00" height="5.00" fill="url(#h1_28)" shape-rendering="crispEdges"/>
<rect x="359.60" y="137.00" width="33.00" height="5.00" fill="url(#h1_29)" shape-rendering="crispEdges"/>
<rect x="359.60" y="141.00" width="33.00" height="5.00" fill="url(#h1_30)" shape-rendering="crispEdges"/>
<rect x="359.60" y="145.00" width="33.00" height="5.00" fill="url(#h1_31)" shape-rendering="crispEdges"/>
<rect x="359.60" y="149.00" width="33.00" height="5.00" fill="url(#h1_32)" shape-rendering="crispEdges"/>
<rect x="359.60" y="153.00" width="33.00" height="5.00" fill="url(#h1_33)" shape-rendering="crispEdges"/>
<rect x="359.60" y="157.00" width="33.00" height="5.00" fill="url(#h1_34)" shape-rendering="crispEdges"/>
<rect x="359.60" y="161.00" width="33.00" height="5.00" fill="url(#h1_35)" shape-rendering="crispEdges"/>
<rect x="359.60" y="165.00" width="33.00" height="5.00" fill="url(#h1_36)" shape-rendering="crispEdges"/>
<rect x="359.60" y="169.00" width="33.00" height="5.00" fill="url(#h1_37)" shape-rendering="crispEdges"/>
<rect x="359.60" y="173.00" width="33.00" height="5.00" fill="url(#h1_38)" shape-rendering="crispEdges"/>
<rect x="359.60" y="177.00" width="33.00" height="5.00" fill="url(#h1_39)" shape-rendering="crispEdges"/>
<rect x="359.60" y="181.00" width="33.00" height="5.00" fill="url(#h1_40)" shape-rendering="crispEdges"/>
<rect x="359.60" y="185.00" width="33.00" height="9.00" fill="url(#h1_41)" shape-rendering="crispEdges"/>
<rect x="359.60" y="193.00" width="33.00" height="9.00" fill="url(#h1_42)" shape-rendering="crispEdges"/>
<rect x="359.60" y="201.00" width="33.00" height="9.00" fill="url(#h1_43)" shape-rendering="crispEdges"/>
<rect x="359.60" y="209.00" width="33.00" height="9.00" fill="url(#h1_44)" shape-rendering="crispEdges"/>
<rect x="359.60" y="217.00" width="33.00" height="9.00" fill="url(#h1_45)" shape-rendering="crispEdges"/>
<rect x="359.60" y="225.00" width="33.00" height="9.00" fill="url(#h1_46)" shape-rendering="crispEdges"/>
<rect x="359.60" y="233.00" width="33.00" height="9.00" fill="url(#h1_47)" shape-rendering="crispEdges"/>
<rect x="359.60" y="241.00" width="33.00" height="9.00" fill="url(#h1_48)" shape-rendering="crispEdges"/>
<rect x="359.60" y="249.00" width="33.00" height="9.00" fill="url(#h1_49)" shape-rendering="crispEdges"/>
<rect x="359.60" y="257.00" width="33.00" height="9.00" fill="url(#h1_50)" shape-rendering="crispEdges"/>
<rect x="359.60" y="265.00" width="33.00" height="9.00" fill="url(#h1_51)" shape-rendering="crispEdges"/>
<rect x="359.60" y="273.00" width="33.00" height="4.00" fill="url(#h1_52)" shape-rendering="crispEdges"/>
<rect x="359.80" y="85.20" width="32.60" height="191.60" fill="none" stroke="#505050" stroke-opacity="0.45" stroke-width="0.5"/>
<text x="361.25" y="280.40" font-size="2.8" fill="#666" text-anchor="middle">-3.0</text>
<text x="368.51" y="280.40" font-size="2.8" fill="#666" text-anchor="middle">TSS</text>
<text x="387.65" y="280.40" font-size="2.8" fill="#666" text-anchor="middle">TES:3kb</text>
<text x="376.10" y="284.20" font-size="2.8" fill="#666" text-anchor="middle">gene distance (bp)</text>
<text x="357.60" y="196.00" font-size="2.6" fill="#888" text-anchor="middle" transform="rotate(-90 357.60 196.00)">genes</text>
<rect x="359.40" y="291.00" width="33.20" height="2.80" fill="url(#spec)"/>
<text x="361.06" y="297.40" font-size="2.8" fill="#555" text-anchor="middle">0</text>
<text x="374.34" y="297.40" font-size="2.8" fill="#555" text-anchor="middle">50</text>
<text x="389.28" y="297.40" font-size="2.8" fill="#555" text-anchor="middle">100</text>
<rect x="408.70" y="46.50" width="46.80" height="253.00" fill="#fff" stroke="#e4e4e4" stroke-width="1"/>
<polyline points="417.20,77.20 421.10,75.50 423.70,73.00 425.00,63.30 426.00,54.90 426.90,63.30 427.90,71.00 430.10,73.90 435.90,74.20 440.40,73.60 442.30,72.60 444.90,73.30 450.30,74.60" fill="none" stroke="#cdd0f2" stroke-width="1.9" stroke-linejoin="round"/>
<polyline points="417.20,77.20 421.10,75.50 423.70,73.00 425.00,63.30 426.00,54.90 426.90,63.30 427.90,71.00 430.10,73.90 435.90,74.20 440.40,73.60 442.30,72.60 444.90,73.30 450.30,74.60" fill="none" stroke="#4f50c0" stroke-width="0.75" stroke-linejoin="round"/>
<rect x="417.20" y="49.80" width="33.10" height="28.70" fill="none" stroke="#9a9a9a" stroke-width="0.5"/>
<rect x="433.42" y="53.20" width="5.8" height="1.2" fill="#7070cc"/>
<text x="440.42" y="54.80" font-size="2.8" fill="#555">genes</text>
<text x="432.10" y="48.60" font-size="3.0" fill="#666" text-anchor="middle" textLength="41.11" lengthAdjust="spacingAndGlyphs">D7_Ser5Pol2_Merged_hg19</text>
<text x="415.70" y="51.40" font-size="2.8" fill="#555" text-anchor="end">150</text>
<rect x="416.20" y="50.15" width="1" height="0.5" fill="#777"/>
<text x="415.70" y="61.50" font-size="2.8" fill="#555" text-anchor="end">100</text>
<rect x="416.20" y="60.25" width="1" height="0.5" fill="#777"/>
<text x="415.70" y="71.80" font-size="2.8" fill="#555" text-anchor="end">50</text>
<rect x="416.20" y="70.55" width="1" height="0.5" fill="#777"/>
<text x="417.86" y="82.50" font-size="2.8" fill="#555" text-anchor="middle">-3.0</text>
<text x="426.14" y="82.50" font-size="2.8" fill="#555" text-anchor="middle">TSS</text>
<text x="445.34" y="82.50" font-size="2.8" fill="#555" text-anchor="middle">TES:3kb</text>
<defs><linearGradient id="h2_0" x1="0" x2="1" y1="0" y2="0"><stop offset="0.000" stop-color="#fee594"/><stop offset="0.206" stop-color="#fee28e"/><stop offset="0.227" stop-color="#4f63ab"/><stop offset="0.293" stop-color="#4f63ab"/><stop offset="0.314" stop-color="#56b1ac"/><stop offset="0.550" stop-color="#56b1ac"/><stop offset="0.700" stop-color="#54aead"/><stop offset="0.820" stop-color="#51abaf"/><stop offset="1.000" stop-color="#5eb9a9"/></linearGradient><linearGradient id="h2_1" x1="0" x2="1" y1="0" y2="0"><stop offset="0.000" stop-color="#fecc7a"/><stop offset="0.208" stop-color="#fec776"/><stop offset="0.230" stop-color="#4471b2"/><stop offset="0.290" stop-color="#4471b2"/><stop offset="0.312" stop-color="#8fd2a4"/><stop offset="0.550" stop-color="#8fd2a4"/><stop offset="0.700" stop-color="#88d0a4"/><stop offset="0.820" stop-color="#82cda5"/><stop offset="1.000" stop-color="#91d3a4"/></linearGradient><linearGradient id="h2_2" x1="0" x2="1" y1="0" y2="0"><stop offset="0.000" stop-color="#fdc272"/><stop offset="0.211" stop-color="#fdbd6e"/><stop offset="0.232" stop-color="#3a91b9"/><stop offset="0.288" stop-color="#3a91b9"/><stop offset="0.309" stop-color="#c9e99e"/><stop offset="0.550" stop-color="#c9e99e"/><stop offset="0.700" stop-color="#c1e6a0"/><stop offset="0.820" stop-color="#bae3a1"/><stop offset="1.000" stop-color="#c6e89f"/></linearGradient><linearGradient id="h2_3" x1="0" x2="1" y1="0" y2="0"><stop offset="0.000" stop-color="#fdb869"/><stop offset="0.213" stop-color="#fdb365"/><stop offset="0.234" stop-color="#59b4ab"/><stop offset="0.286" stop-color="#59b4ab"/><stop offset="0.307" stop-color="#eff8a6"/><stop offset="0.550" stop-color="#eff8a6"/><stop offset="0.700" stop-color="#ebf7a0"/><stop offset="0.820" stop-color="#e7f69a"/><stop offset="1.000" stop-color="#ecf7a1"/></linearGradient><linearGradient id="h2_4" x1="0" x2="1" y1="0" y2="0"><stop offset="0.000" stop-color="#fdb063"/><stop offset="0.215" stop-color="#fdab60"/><stop offset="0.236" stop-color="#70c6a5"/><stop offset="0.284" stop-color="#70c6a5"/><stop offset="0.305" stop-color="#ffffbf"/><stop offset="0.550" stop-color="#ffffbf"/><stop offset="0.700" stop-color="#fbfeb9"/><stop offset="0.820" stop-color="#f7fcb3"/><stop offset="1.000" stop-color="#fbfeba"/></linearGradient><linearGradient id="h2_5" x1="0" x2="1" y1="0" y2="0"><stop offset="0.000" stop-color="#fcaa5f"/><stop offset="0.215" stop-color="#fca45d"/><stop offset="0.236" stop-color="#82cda5"/><stop offset="0.284" stop-color="#82cda5"/><stop offset="0.305" stop-color="#feeea2"/><stop offset="0.550" stop-color="#feeea2"/><stop offset="0.700" stop-color="#fff3aa"/><stop offset="0.820" stop-color="#fff7b2"/><stop offset="1.000" stop-color="#fff3ab"/></linearGradient><linearGradient id="h2_6" x1="0" x2="1" y1="0" y2="0"><stop offset="0.000" stop-color="#fba35c"/><stop offset="0.215" stop-color="#fb9e5a"/><stop offset="0.236" stop-color="#8fd2a4"/><stop offset="0.284" stop-color="#8fd2a4"/><stop offset="0.305" stop-color="#fedb87"/><stop offset="0.550" stop-color="#fedb87"/><stop offset="0.700" stop-color="#fee28f"/><stop offset="0.820" stop-color="#fee898"/><stop offset="1.000" stop-color="#fee491"/></linearGradient><linearGradient id="h2_7" x1="0" x2="1" y1="0" y2="0"><stop offset="0.000" stop-color="#fb9c59"/><stop offset="0.215" stop-color="#fa9757"/><stop offset="0.236" stop-color="#9dd8a4"/><stop offset="0.284" stop-color="#9dd8a4"/><stop offset="0.305" stop-color="#fdc272"/><stop offset="0.550" stop-color="#fdc272"/><stop offset="0.700" stop-color="#fecc7a"/><stop offset="0.820" stop-color="#fed683"/><stop offset="1.000" stop-color="#fed07e"/></linearGradient><linearGradient id="h2_8" x1="0" x2="1" y1="0" y2="0"><stop offset="0.000" stop-color="#fa9756"/><stop offset="0.215" stop-color="#f99254"/><stop offset="0.236" stop-color="#a8dca4"/><stop offset="0.284" stop-color="#a8dca4"/><stop offset="0.305" stop-color="#fdb365"/><stop offset="0.550" stop-color="#fdb365"/><stop offset="0.700" stop-color="#fdbd6e"/><stop offset="0.820" stop-color="#fec776"/><stop offset="1.000" stop-color="#fdc272"/></linearGradient><linearGradient id="h2_9" x1="0" x2="1" y1="0" y2="0"><stop offset="0.000" stop-color="#f99254"/><stop offset="0.215" stop-color="#f88d52"/><stop offset="0.236" stop-color="#aedea3"/><stop offset="0.284" stop-color="#aedea3"/><stop offset="0.305" stop-color="#fca85e"/><stop offset="0.550" stop-color="#fca85e"/><stop offset="0.700" stop-color="#fdb365"/><stop offset="0.820" stop-color="#fdbd6e"/><stop offset="1.000" stop-color="#fdb869"/></linearGradient><linearGradient id="h2_10" x1="0" x2="1" y1="0" y2="0"><stop offset="0.000" stop-color="#f88d52"/><stop offset="0.215" stop-color="#f88850"/><stop offset="0.236" stop-color="#b5e1a2"/><stop offset="0.284" stop-color="#b5e1a2"/><stop offset="0.305" stop-color="#fb9d59"/><stop offset="0.550" stop-color="#fb9d59"/><stop offset="0.700" stop-color="#fcaa5f"/><stop offset="0.820" stop-color="#fdb567"/><stop offset="1.000" stop-color="#fdb063"/></linearGradient><linearGradient id="h2_11" x1="0" x2="1" y1="0" y2="0"><stop offset="0.000" stop-color="#f88950"/><stop offset="0.215" stop-color="#f7844e"/><stop offset="0.236" stop-color="#bee5a0"/><stop offset="0.284" stop-color="#bee5a0"/><stop offset="0.305" stop-color="#f99455"/><stop offset="0.550" stop-color="#f99455"/><stop offset="0.700" stop-color="#fba15b"/><stop offset="0.820" stop-color="#fdae61"/><stop offset="1.000" stop-color="#fca85e"/></linearGradient><linearGradient id="h2_12" x1="0" x2="1" y1="0" y2="0"><stop offset="0.000" stop-color="#f7854e"/><stop offset="0.215" stop-color="#f7804c"/><stop offset="0.236" stop-color="#ceeb9d"/><stop offset="0.284" stop-color="#ceeb9d"/><stop offset="0.305" stop-color="#f8874f"/><stop offset="0.550" stop-color="#f8874f"/><stop offset="0.700" stop-color="#f99455"/><stop offset="0.820" stop-color="#fba15b"/><stop offset="1.000" stop-color="#fa9b58"/></linearGradient><linearGradient id="h2_13" x1="0" x2="1" y1="0" y2="0"><stop offset="0.000" stop-color="#f7804c"/><stop offset="0.215" stop-color="#f67c4a"/><stop offset="0.236" stop-color="#e3f499"/><stop offset="0.284" stop-color="#e3f499"/><stop offset="0.305" stop-color="#f67a49"/><stop offset="0.550" stop-color="#f67a49"/><stop offset="0.700" stop-color="#f7864f"/><stop offset="0.820" stop-color="#f99254"/><stop offset="1.000" stop-color="#f88d52"/></linearGradient><linearGradient id="h2_14" x1="0" x2="1" y1="0" y2="0"><stop offset="0.000" stop-color="#f67b4a"/><stop offset="0.215" stop-color="#f57748"/><stop offset="0.236" stop-color="#ecf8a2"/><stop offset="0.284" stop-color="#ecf8a2"/><stop offset="0.305" stop-color="#f57245"/><stop offset="0.550" stop-color="#f57245"/><stop offset="0.700" stop-color="#f67d4a"/><stop offset="0.820" stop-color="#f8874f"/><stop offset="1.000" stop-color="#f7834d"/></linearGradient><linearGradient id="h2_15" x1="0" x2="1" y1="0" y2="0"><stop offset="0.000" stop-color="#f57747"/><stop offset="0.215" stop-color="#f57346"/><stop offset="0.236" stop-color="#f4faad"/><stop offset="0.284" stop-color="#f4faad"/><stop offset="0.305" stop-color="#f46c43"/><stop offset="0.550" stop-color="#f46c43"/><stop offset="0.700" stop-color="#f57547"/><stop offset="0.820" stop-color="#f67f4b"/><stop offset="1.000" stop-color="#f67a49"/></linearGradient><linearGradient id="h2_16" x1="0" x2="1" y1="0" y2="0"><stop offset="0.000" stop-color="#f57245"/><stop offset="0.215" stop-color="#f46e43"/><stop offset="0.236" stop-color="#fbfeb9"/><stop offset="0.284" stop-color="#fbfeb9"/><stop offset="0.305" stop-color="#f16944"/><stop offset="0.550" stop-color="#f16944"/><stop offset="0.700" stop-color="#f47044"/><stop offset="0.820" stop-color="#f67948"/><stop offset="1.000" stop-color="#f57446"/></linearGradient><linearGradient id="h2_17" x1="0" x2="1" y1="0" y2="0"><stop offset="0.000" stop-color="#f46d43"/><stop offset="0.215" stop-color="#f26a44"/><stop offset="0.236" stop-color="#fffcba"/><stop offset="0.284" stop-color="#fffcba"/><stop offset="0.305" stop-color="#ef6545"/><stop offset="0.550" stop-color="#ef6545"/><stop offset="0.700" stop-color="#f36b44"/><stop offset="0.820" stop-color="#f57245"/><stop offset="1.000" stop-color="#f46e43"/></linearGradient><linearGradient id="h2_18" x1="0" x2="1" y1="0" y2="0"><stop offset="0.000" stop-color="#f16844"/><stop offset="0.215" stop-color="#ef6645"/><stop offset="0.236" stop-color="#fff6af"/><stop offset="0.284" stop-color="#fff6af"/><stop offset="0.305" stop-color="#ec6146"/><stop offset="0.550" stop-color="#ec6146"/><stop offset="0.700" stop-color="#ef6645"/><stop offset="0.820" stop-color="#f36b44"/><stop offset="1.000" stop-color="#f16844"/></linearGradient><linearGradient id="h2_19" x1="0" x2="1" y1="0" y2="0"><stop offset="0.000" stop-color="#ee6445"/><stop offset="0.215" stop-color="#ed6246"/><stop offset="0.236" stop-color="#fff1a8"/><stop offset="0.284" stop-color="#fff1a8"/><stop offset="0.305" stop-color="#ea5d47"/><stop offset="0.550" stop-color="#ea5d47"/><stop offset="0.700" stop-color="#ec6246"/><stop offset="0.820" stop-color="#ef6645"/><stop offset="1.000" stop-color="#ee6345"/></linearGradient><linearGradient id="h2_20" x1="0" x2="1" y1="0" y2="0"><stop offset="0.000" stop-color="#ec6146"/><stop offset="0.215" stop-color="#ea5e47"/><stop offset="0.236" stop-color="#feeea2"/><stop offset="0.284" stop-color="#feeea2"/><stop offset="0.305" stop-color="#e75948"/><stop offset="0.550" stop-color="#e75948"/><stop offset="0.700" stop-color="#ea5e47"/><stop offset="0.820" stop-color="#ed6246"/><stop offset="1.000" stop-color="#eb5f47"/></linearGradient><linearGradient id="h2_21" x1="0" x2="1" y1="0" y2="0"><stop offset="0.000" stop-color="#e95d47"/><stop offset="0.215" stop-color="#e85b48"/><stop offset="0.236" stop-color="#feeb9d"/><stop offset="0.284" stop-color="#feeb9d"/><stop offset="0.305" stop-color="#e55649"/><stop offset="0.550" stop-color="#e55649"/><stop offset="0.700" stop-color="#e75a48"/><stop offset="0.820" stop-color="#ea5d47"/><stop offset="1.000" stop-color="#e85b48"/></linearGradient><linearGradient id="h2_22" x1="0" x2="1" y1="0" y2="0"><stop offset="0.000" stop-color="#e75948"/><stop offset="0.215" stop-color="#e65749"/><stop offset="0.236" stop-color="#fee899"/><stop offset="0.284" stop-color="#fee899"/><stop offset="0.305" stop-color="#e3534a"/><stop offset="0.550" stop-color="#e3534a"/><stop offset="0.700" stop-color="#e55649"/><stop offset="0.820" stop-color="#e75a48"/><stop offset="1.000" stop-color="#e65749"/></linearGradient><linearGradient id="h2_23" x1="0" x2="1" y1="0" y2="0"><stop offset="0.000" stop-color="#e55649"/><stop offset="0.215" stop-color="#e45449"/><stop offset="0.236" stop-color="#fee695"/><stop offset="0.284" stop-color="#fee695"/><stop offset="0.305" stop-color="#e1514a"/><stop offset="0.550" stop-color="#e1514a"/><stop offset="0.700" stop-color="#e35449"/><stop offset="0.820" stop-color="#e55749"/><stop offset="1.000" stop-color="#e45549"/></linearGradient><linearGradient id="h2_24" x1="0" x2="1" y1="0" y2="0"><stop offset="0.000" stop-color="#e3534a"/><stop offset="0.215" stop-color="#e2514a"/><stop offset="0.236" stop-color="#fee391"/><stop offset="0.284" stop-color="#fee391"/><stop offset="0.305" stop-color="#e04e4b"/><stop offset="0.550" stop-color="#e04e4b"/><stop offset="0.700" stop-color="#e2514a"/><stop offset="0.820" stop-color="#e35449"/><stop offset="1.000" stop-color="#e2524a"/></linearGradient><linearGradient id="h2_25" x1="0" x2="1" y1="0" y2="0"><stop offset="0.000" stop-color="#e1504a"/><stop offset="0.215" stop-color="#e04f4b"/><stop offset="0.236" stop-color="#fee18d"/><stop offset="0.284" stop-color="#fee18d"/><stop offset="0.305" stop-color="#de4c4b"/><stop offset="0.550" stop-color="#de4c4b"/><stop offset="0.700" stop-color="#e04e4b"/><stop offset="0.820" stop-color="#e1514a"/><stop offset="1.000" stop-color="#e04f4b"/></linearGradient><linearGradient id="h2_26" x1="0" x2="1" y1="0" y2="0"><stop offset="0.000" stop-color="#df4d4b"/><stop offset="0.215" stop-color="#de4b4c"/><stop offset="0.236" stop-color="#fedc88"/><stop offset="0.284" stop-color="#fedc88"/><stop offset="0.305" stop-color="#dc494c"/><stop offset="0.550" stop-color="#dc494c"/><stop offset="0.700" stop-color="#de4b4c"/><stop offset="0.820" stop-color="#df4d4b"/><stop offset="1.000" stop-color="#de4b4c"/></linearGradient><linearGradient id="h2_27" x1="0" x2="1" y1="0" y2="0"><stop offset="0.000" stop-color="#dc494c"/><stop offset="0.215" stop-color="#db474d"/><stop offset="0.236" stop-color="#fed481"/><stop offset="0.284" stop-color="#fed481"/><stop offset="0.305" stop-color="#db464d"/><stop offset="0.550" stop-color="#db464d"/><stop offset="0.700" stop-color="#db474d"/><stop offset="0.820" stop-color="#dc484c"/><stop offset="1.000" stop-color="#db474d"/></linearGradient><linearGradient id="h2_28" x1="0" x2="1" y1="0" y2="0"><stop offset="0.000" stop-color="#da454d"/><stop offset="0.215" stop-color="#d9444e"/><stop offset="0.236" stop-color="#fecc7a"/><stop offset="0.284" stop-color="#fecc7a"/><stop offset="0.305" stop-color="#d9444e"/><stop offset="0.550" stop-color="#d9444e"/><stop offset="0.700" stop-color="#d9444e"/><stop offset="0.820" stop-color="#d9444e"/><stop offset="1.000" stop-color="#d8424e"/></linearGradient><linearGradient id="h2_29" x1="0" x2="1" y1="0" y2="0"><stop offset="0.000" stop-color="#d8424e"/><stop offset="0.215" stop-color="#d7414e"/><stop offset="0.236" stop-color="#fdc473"/><stop offset="0.284" stop-color="#fdc473"/><stop offset="0.305" stop-color="#d7414e"/><stop offset="0.550" stop-color="#d7414e"/><stop offset="0.700" stop-color="#d7414e"/><stop offset="0.820" stop-color="#d7414e"/><stop offset="1.000" stop-color="#d63f4f"/></linearGradient><linearGradient id="h2_30" x1="0" x2="1" y1="0" y2="0"><stop offset="0.000" stop-color="#d63f4f"/><stop offset="0.215" stop-color="#d53e4f"/><stop offset="0.236" stop-color="#fdbc6d"/><stop offset="0.284" stop-color="#fdbc6d"/><stop offset="0.305" stop-color="#d53e4f"/><stop offset="0.550" stop-color="#d53e4f"/><stop offset="0.700" stop-color="#d53e4f"/><stop offset="0.820" stop-color="#d53e4f"/><stop offset="1.000" stop-color="#d33d4f"/></linearGradient><linearGradient id="h2_31" x1="0" x2="1" y1="0" y2="0"><stop offset="0.000" stop-color="#d33d4f"/><stop offset="0.215" stop-color="#d23c4e"/><stop offset="0.236" stop-color="#fdb567"/><stop offset="0.284" stop-color="#fdb567"/><stop offset="0.305" stop-color="#d23c4e"/><stop offset="0.550" stop-color="#d23c4e"/><stop offset="0.700" stop-color="#d23c4e"/><stop offset="0.820" stop-color="#d23c4e"/><stop offset="1.000" stop-color="#d03b4e"/></linearGradient><linearGradient id="h2_32" x1="0" x2="1" y1="0" y2="0"><stop offset="0.000" stop-color="#d03b4e"/><stop offset="0.215" stop-color="#cf3a4e"/><stop offset="0.236" stop-color="#fdae61"/><stop offset="0.284" stop-color="#fdae61"/><stop offset="0.305" stop-color="#cf3a4e"/><stop offset="0.550" stop-color="#cf3a4e"/><stop offset="0.700" stop-color="#cf3a4e"/><stop offset="0.820" stop-color="#cf3a4e"/><stop offset="1.000" stop-color="#ce394d"/></linearGradient><linearGradient id="h2_33" x1="0" x2="1" y1="0" y2="0"><stop offset="0.000" stop-color="#cd394d"/><stop offset="0.215" stop-color="#cc384d"/><stop offset="0.236" stop-color="#fca55d"/><stop offset="0.284" stop-color="#fca55d"/><stop offset="0.305" stop-color="#cc384d"/><stop offset="0.550" stop-color="#cc384d"/><stop offset="0.700" stop-color="#cc384d"/><stop offset="0.820" stop-color="#cc384d"/><stop offset="1.000" stop-color="#cb374d"/></linearGradient><linearGradient id="h2_34" x1="0" x2="1" y1="0" y2="0"><stop offset="0.000" stop-color="#ca374d"/><stop offset="0.215" stop-color="#c9364d"/><stop offset="0.236" stop-color="#fb9d59"/><stop offset="0.284" stop-color="#fb9d59"/><stop offset="0.305" stop-color="#c9364d"/><stop offset="0.550" stop-color="#c9364d"/><stop offset="0.700" stop-color="#c9364d"/><stop offset="0.820" stop-color="#c9364d"/><stop offset="1.000" stop-color="#c8354c"/></linearGradient><linearGradient id="h2_35" x1="0" x2="1" y1="0" y2="0"><stop offset="0.000" stop-color="#c8354c"/><stop offset="0.215" stop-color="#c7344c"/><stop offset="0.236" stop-color="#f99555"/><stop offset="0.284" stop-color="#f99555"/><stop offset="0.305" stop-color="#c7344c"/><stop offset="0.550" stop-color="#c7344c"/><stop offset="0.700" stop-color="#c7344c"/><stop offset="0.820" stop-color="#c7344c"/><stop offset="1.000" stop-color="#c5334c"/></linearGradient><linearGradient id="h2_36" x1="0" x2="1" y1="0" y2="0"><stop offset="0.000" stop-color="#c5334c"/><stop offset="0.215" stop-color="#c4334c"/><stop offset="0.236" stop-color="#f88d52"/><stop offset="0.284" stop-color="#f88d52"/><stop offset="0.305" stop-color="#c4334c"/><stop offset="0.550" stop-color="#c4334c"/><stop offset="0.700" stop-color="#c4334c"/><stop offset="0.820" stop-color="#c4334c"/><stop offset="1.000" stop-color="#c3324b"/></linearGradient><linearGradient id="h2_37" x1="0" x2="1" y1="0" y2="0"><stop offset="0.000" stop-color="#c3324b"/><stop offset="0.215" stop-color="#c2314b"/><stop offset="0.236" stop-color="#f7854e"/><stop offset="0.284" stop-color="#f7854e"/><stop offset="0.305" stop-color="#c2314b"/><stop offset="0.550" stop-color="#c2314b"/><stop offset="0.700" stop-color="#c2314b"/><stop offset="0.820" stop-color="#c2314b"/><stop offset="1.000" stop-color="#c1314b"/></linearGradient><linearGradient id="h2_38" x1="0" x2="1" y1="0" y2="0"><stop offset="0.000" stop-color="#c1304b"/><stop offset="0.215" stop-color="#c0304b"/><stop offset="0.236" stop-color="#f67d4a"/><stop offset="0.284" stop-color="#f67d4a"/><stop offset="0.305" stop-color="#c0304b"/><stop offset="0.550" stop-color="#c0304b"/><stop offset="0.700" stop-color="#c0304b"/><stop offset="0.820" stop-color="#c0304b"/><stop offset="1.000" stop-color="#bf2f4a"/></linearGradient><linearGradient id="h2_39" x1="0" x2="1" y1="0" y2="0"><stop offset="0.000" stop-color="#bf2f4a"/><stop offset="0.215" stop-color="#be2e4a"/><stop offset="0.236" stop-color="#f57547"/><stop offset="0.284" stop-color="#f57547"/><stop offset="0.305" stop-color="#be2e4a"/><stop offset="0.550" stop-color="#be2e4a"/><stop offset="0.700" stop-color="#be2e4a"/><stop offset="0.820" stop-color="#be2e4a"/><stop offset="1.000" stop-color="#bd2e4a"/></linearGradient><linearGradient id="h2_40" x1="0" x2="1" y1="0" y2="0"><stop offset="0.000" stop-color="#bd2e4a"/><stop offset="0.215" stop-color="#bc2d4a"/><stop offset="0.236" stop-color="#f46d43"/><stop offset="0.284" stop-color="#f46d43"/><stop offset="0.305" stop-color="#bc2d4a"/><stop offset="0.550" stop-color="#bc2d4a"/><stop offset="0.700" stop-color="#bc2d4a"/><stop offset="0.820" stop-color="#bc2d4a"/><stop offset="1.000" stop-color="#bb2c4a"/></linearGradient><linearGradient id="h2_41" x1="0" x2="1" y1="0" y2="0"><stop offset="0.000" stop-color="#ba2c49"/><stop offset="0.215" stop-color="#b92b49"/><stop offset="0.236" stop-color="#ed6246"/><stop offset="0.284" stop-color="#ed6246"/><stop offset="0.305" stop-color="#b92b49"/><stop offset="0.550" stop-color="#b92b49"/><stop offset="0.700" stop-color="#b92b49"/><stop offset="0.820" stop-color="#b92b49"/><stop offset="1.000" stop-color="#b92b49"/></linearGradient><linearGradient id="h2_42" x1="0" x2="1" y1="0" y2="0"><stop offset="0.000" stop-color="#b72949"/><stop offset="0.215" stop-color="#b62949"/><stop offset="0.236" stop-color="#e45549"/><stop offset="0.284" stop-color="#e45549"/><stop offset="0.305" stop-color="#b62949"/><stop offset="0.550" stop-color="#b62949"/><stop offset="0.700" stop-color="#b62949"/><stop offset="0.820" stop-color="#b62949"/><stop offset="1.000" stop-color="#b52848"/></linearGradient><linearGradient id="h2_43" x1="0" x2="1" y1="0" y2="0"><stop offset="0.000" stop-color="#b32748"/><stop offset="0.215" stop-color="#b32748"/><stop offset="0.236" stop-color="#db474d"/><stop offset="0.284" stop-color="#db474d"/><stop offset="0.305" stop-color="#b32748"/><stop offset="0.550" stop-color="#b32748"/><stop offset="0.700" stop-color="#b32748"/><stop offset="0.820" stop-color="#b32748"/><stop offset="1.000" stop-color="#b22648"/></linearGradient><linearGradient id="h2_44" x1="0" x2="1" y1="0" y2="0"><stop offset="0.000" stop-color="#b12547"/><stop offset="0.215" stop-color="#b02547"/><stop offset="0.236" stop-color="#d43e4f"/><stop offset="0.284" stop-color="#d43e4f"/><stop offset="0.305" stop-color="#b02547"/><stop offset="0.550" stop-color="#b02547"/><stop offset="0.700" stop-color="#b02547"/><stop offset="0.820" stop-color="#b02547"/><stop offset="1.000" stop-color="#b02547"/></linearGradient><linearGradient id="h2_45" x1="0" x2="1" y1="0" y2="0"><stop offset="0.000" stop-color="#ae2447"/><stop offset="0.215" stop-color="#ae2347"/><stop offset="0.236" stop-color="#c9364d"/><stop offset="0.284" stop-color="#c9364d"/><stop offset="0.305" stop-color="#ae2347"/><stop offset="0.550" stop-color="#ae2347"/><stop offset="0.700" stop-color="#ae2347"/><stop offset="0.820" stop-color="#ae2347"/><stop offset="1.000" stop-color="#ad2347"/></linearGradient><linearGradient id="h2_46" x1="0" x2="1" y1="0" y2="0"><stop offset="0.000" stop-color="#ac2246"/><stop offset="0.215" stop-color="#ab2246"/><stop offset="0.236" stop-color="#be2e4a"/><stop offset="0.284" stop-color="#be2e4a"/><stop offset="0.305" stop-color="#ab2246"/><stop offset="0.550" stop-color="#ab2246"/><stop offset="0.700" stop-color="#ab2246"/><stop offset="0.820" stop-color="#ab2246"/><stop offset="1.000" stop-color="#ab2146"/></linearGradient><linearGradient id="h2_47" x1="0" x2="1" y1="0" y2="0"><stop offset="0.000" stop-color="#aa2146"/><stop offset="0.215" stop-color="#a92046"/><stop offset="0.236" stop-color="#b52848"/><stop offset="0.284" stop-color="#b52848"/><stop offset="0.305" stop-color="#a92046"/><stop offset="0.550" stop-color="#a92046"/><stop offset="0.700" stop-color="#a92046"/><stop offset="0.820" stop-color="#a92046"/><stop offset="1.000" stop-color="#a92046"/></linearGradient><linearGradient id="h2_48" x1="0" x2="1" y1="0" y2="0"><stop offset="0.000" stop-color="#a92046"/><stop offset="0.215" stop-color="#a92046"/><stop offset="0.236" stop-color="#b22648"/><stop offset="0.284" stop-color="#b22648"/><stop offset="0.305" stop-color="#a92046"/><stop offset="0.550" stop-color="#a92046"/><stop offset="0.700" stop-color="#a92046"/><stop offset="0.820" stop-color="#a92046"/><stop offset="1.000" stop-color="#a82046"/></linearGradient><linearGradient id="h2_49" x1="0" x2="1" y1="0" y2="0"><stop offset="0.000" stop-color="#a81f46"/><stop offset="0.215" stop-color="#a81f46"/><stop offset="0.236" stop-color="#af2447"/><stop offset="0.284" stop-color="#af2447"/><stop offset="0.305" stop-color="#a81f46"/><stop offset="0.550" stop-color="#a81f46"/><stop offset="0.700" stop-color="#a81f46"/><stop offset="0.820" stop-color="#a81f46"/><stop offset="1.000" stop-color="#a81f46"/></linearGradient><linearGradient id="h2_50" x1="0" x2="1" y1="0" y2="0"><stop offset="0.000" stop-color="#a71f46"/><stop offset="0.215" stop-color="#a71f45"/><stop offset="0.236" stop-color="#ad2347"/><stop offset="0.284" stop-color="#ad2347"/><stop offset="0.305" stop-color="#a71f45"/><stop offset="0.550" stop-color="#a71f45"/><stop offset="0.700" stop-color="#a71f45"/><stop offset="0.820" stop-color="#a71f45"/><stop offset="1.000" stop-color="#a71f45"/></linearGradient><linearGradient id="h2_51" x1="0" x2="1" y1="0" y2="0"><stop offset="0.000" stop-color="#a71e45"/><stop offset="0.215" stop-color="#a61e45"/><stop offset="0.236" stop-color="#aa2146"/><stop offset="0.284" stop-color="#aa2146"/><stop offset="0.305" stop-color="#a61e45"/><stop offset="0.550" stop-color="#a61e45"/><stop offset="0.700" stop-color="#a61e45"/><stop offset="0.820" stop-color="#a61e45"/><stop offset="1.000" stop-color="#a61e45"/></linearGradient><linearGradient id="h2_52" x1="0" x2="1" y1="0" y2="0"><stop offset="0.000" stop-color="#a61e45"/><stop offset="0.215" stop-color="#a61e45"/><stop offset="0.236" stop-color="#a81f46"/><stop offset="0.284" stop-color="#a81f46"/><stop offset="0.305" stop-color="#a61e45"/><stop offset="0.550" stop-color="#a61e45"/><stop offset="0.700" stop-color="#a61e45"/><stop offset="0.820" stop-color="#a61e45"/><stop offset="1.000" stop-color="#a61e45"/></linearGradient></defs>
<rect x="417.20" y="84.20" width="33.30" height="2.00" fill="url(#h2_0)" shape-rendering="crispEdges"/>
<rect x="417.20" y="85.20" width="33.30" height="2.00" fill="url(#h2_1)" shape-rendering="crispEdges"/>
<rect x="417.20" y="86.20" width="33.30" height="2.00" fill="url(#h2_2)" shape-rendering="crispEdges"/>
<rect x="417.20" y="87.20" width="33.30" height="2.00" fill="url(#h2_3)" shape-rendering="crispEdges"/>
<rect x="417.20" y="88.20" width="33.30" height="2.00" fill="url(#h2_4)" shape-rendering="crispEdges"/>
<rect x="417.20" y="89.20" width="33.30" height="2.00" fill="url(#h2_5)" shape-rendering="crispEdges"/>
<rect x="417.20" y="90.20" width="33.30" height="2.00" fill="url(#h2_6)" shape-rendering="crispEdges"/>
<rect x="417.20" y="91.20" width="33.30" height="2.00" fill="url(#h2_7)" shape-rendering="crispEdges"/>
<rect x="417.20" y="92.20" width="33.30" height="2.00" fill="url(#h2_8)" shape-rendering="crispEdges"/>
<rect x="417.20" y="93.20" width="33.30" height="2.00" fill="url(#h2_9)" shape-rendering="crispEdges"/>
<rect x="417.20" y="94.20" width="33.30" height="2.00" fill="url(#h2_10)" shape-rendering="crispEdges"/>
<rect x="417.20" y="95.20" width="33.30" height="2.00" fill="url(#h2_11)" shape-rendering="crispEdges"/>
<rect x="417.20" y="96.20" width="33.30" height="3.00" fill="url(#h2_12)" shape-rendering="crispEdges"/>
<rect x="417.20" y="98.20" width="33.30" height="3.00" fill="url(#h2_13)" shape-rendering="crispEdges"/>
<rect x="417.20" y="100.20" width="33.30" height="3.00" fill="url(#h2_14)" shape-rendering="crispEdges"/>
<rect x="417.20" y="102.20" width="33.30" height="3.00" fill="url(#h2_15)" shape-rendering="crispEdges"/>
<rect x="417.20" y="104.20" width="33.30" height="3.00" fill="url(#h2_16)" shape-rendering="crispEdges"/>
<rect x="417.20" y="106.20" width="33.30" height="3.00" fill="url(#h2_17)" shape-rendering="crispEdges"/>
<rect x="417.20" y="108.20" width="33.30" height="3.00" fill="url(#h2_18)" shape-rendering="crispEdges"/>
<rect x="417.20" y="110.20" width="33.30" height="3.00" fill="url(#h2_19)" shape-rendering="crispEdges"/>
<rect x="417.20" y="112.20" width="33.30" height="3.00" fill="url(#h2_20)" shape-rendering="crispEdges"/>
<rect x="417.20" y="114.20" width="33.30" height="3.00" fill="url(#h2_21)" shape-rendering="crispEdges"/>
<rect x="417.20" y="116.20" width="33.30" height="3.00" fill="url(#h2_22)" shape-rendering="crispEdges"/>
<rect x="417.20" y="118.20" width="33.30" height="3.00" fill="url(#h2_23)" shape-rendering="crispEdges"/>
<rect x="417.20" y="120.20" width="33.30" height="3.00" fill="url(#h2_24)" shape-rendering="crispEdges"/>
<rect x="417.20" y="122.20" width="33.30" height="3.00" fill="url(#h2_25)" shape-rendering="crispEdges"/>
<rect x="417.20" y="124.20" width="33.30" height="5.00" fill="url(#h2_26)" shape-rendering="crispEdges"/>
<rect x="417.20" y="128.20" width="33.30" height="5.00" fill="url(#h2_27)" shape-rendering="crispEdges"/>
<rect x="417.20" y="132.20" width="33.30" height="5.00" fill="url(#h2_28)" shape-rendering="crispEdges"/>
<rect x="417.20" y="136.20" width="33.30" height="5.00" fill="url(#h2_29)" shape-rendering="crispEdges"/>
<rect x="417.20" y="140.20" width="33.30" height="5.00" fill="url(#h2_30)" shape-rendering="crispEdges"/>
<rect x="417.20" y="144.20" width="33.30" height="5.00" fill="url(#h2_31)" shape-rendering="crispEdges"/>
<rect x="417.20" y="148.20" width="33.30" height="5.00" fill="url(#h2_32)" shape-rendering="crispEdges"/>
<rect x="417.20" y="152.20" width="33.30" height="5.00" fill="url(#h2_33)" shape-rendering="crispEdges"/>
<rect x="417.20" y="156.20" width="33.30" height="5.00" fill="url(#h2_34)" shape-rendering="crispEdges"/>
<rect x="417.20" y="160.20" width="33.30" height="5.00" fill="url(#h2_35)" shape-rendering="crispEdges"/>
<rect x="417.20" y="164.20" width="33.30" height="5.00" fill="url(#h2_36)" shape-rendering="crispEdges"/>
<rect x="417.20" y="168.20" width="33.30" height="5.00" fill="url(#h2_37)" shape-rendering="crispEdges"/>
<rect x="417.20" y="172.20" width="33.30" height="5.00" fill="url(#h2_38)" shape-rendering="crispEdges"/>
<rect x="417.20" y="176.20" width="33.30" height="5.00" fill="url(#h2_39)" shape-rendering="crispEdges"/>
<rect x="417.20" y="180.20" width="33.30" height="5.00" fill="url(#h2_40)" shape-rendering="crispEdges"/>
<rect x="417.20" y="184.20" width="33.30" height="9.00" fill="url(#h2_41)" shape-rendering="crispEdges"/>
<rect x="417.20" y="192.20" width="33.30" height="9.00" fill="url(#h2_42)" shape-rendering="crispEdges"/>
<rect x="417.20" y="200.20" width="33.30" height="9.00" fill="url(#h2_43)" shape-rendering="crispEdges"/>
<rect x="417.20" y="208.20" width="33.30" height="9.00" fill="url(#h2_44)" shape-rendering="crispEdges"/>
<rect x="417.20" y="216.20" width="33.30" height="9.00" fill="url(#h2_45)" shape-rendering="crispEdges"/>
<rect x="417.20" y="224.20" width="33.30" height="9.00" fill="url(#h2_46)" shape-rendering="crispEdges"/>
<rect x="417.20" y="232.20" width="33.30" height="9.00" fill="url(#h2_47)" shape-rendering="crispEdges"/>
<rect x="417.20" y="240.20" width="33.30" height="9.00" fill="url(#h2_48)" shape-rendering="crispEdges"/>
<rect x="417.20" y="248.20" width="33.30" height="9.00" fill="url(#h2_49)" shape-rendering="crispEdges"/>
<rect x="417.20" y="256.20" width="33.30" height="9.00" fill="url(#h2_50)" shape-rendering="crispEdges"/>
<rect x="417.20" y="264.20" width="33.30" height="9.00" fill="url(#h2_51)" shape-rendering="crispEdges"/>
<rect x="417.20" y="272.20" width="33.30" height="4.80" fill="url(#h2_52)" shape-rendering="crispEdges"/>
<rect x="417.40" y="84.40" width="32.90" height="192.40" fill="none" stroke="#505050" stroke-opacity="0.45" stroke-width="0.5"/>
<text x="418.87" y="280.40" font-size="2.8" fill="#666" text-anchor="middle">-3.0</text>
<text x="426.19" y="280.40" font-size="2.8" fill="#666" text-anchor="middle">TSS</text>
<text x="445.50" y="280.40" font-size="2.8" fill="#666" text-anchor="middle">TES:3kb</text>
<text x="433.85" y="284.20" font-size="2.8" fill="#666" text-anchor="middle">gene distance (bp)</text>
<text x="415.20" y="195.60" font-size="2.6" fill="#888" text-anchor="middle" transform="rotate(-90 415.20 195.60)">genes</text>
<rect x="417.20" y="291.00" width="33.30" height="2.80" fill="url(#spec)"/>
<text x="418.87" y="297.40" font-size="2.8" fill="#555" text-anchor="middle">0</text>
<text x="432.19" y="297.40" font-size="2.8" fill="#555" text-anchor="middle">100</text>
<text x="447.17" y="297.40" font-size="2.8" fill="#555" text-anchor="middle">200</text>
<rect x="460.60" y="46.00" width="1" height="256.20" fill="#e4e4e4"/>
<polyline points="470.50,78.10 476.70,76.80 478.60,73.60 479.90,69.50 480.80,73.90 482.50,76.40 490.20,77.10 496.60,77.20 504.30,77.70" fill="none" stroke="#cdd0f2" stroke-width="1.9" stroke-linejoin="round"/>
<polyline points="470.50,78.10 476.70,76.80 478.60,73.60 479.90,69.50 480.80,73.90 482.50,76.40 490.20,77.10 496.60,77.20 504.30,77.70" fill="none" stroke="#4f50c0" stroke-width="0.75" stroke-linejoin="round"/>
<rect x="470.50" y="50.40" width="33.80" height="28.30" fill="none" stroke="#9a9a9a" stroke-width="0.5"/>
<rect x="487.06" y="53.80" width="5.8" height="1.2" fill="#7070cc"/>
<text x="494.06" y="55.40" font-size="2.8" fill="#555">genes</text>
<text x="485.80" y="49.20" font-size="3.0" fill="#666" text-anchor="middle" textLength="43.34" lengthAdjust="spacingAndGlyphs">D10_Ser5Pol2_Merged_hg19</text>
<text x="469.00" y="52.10" font-size="2.8" fill="#555" text-anchor="end">150</text>
<rect x="469.50" y="50.85" width="1" height="0.5" fill="#777"/>
<text x="469.00" y="61.50" font-size="2.8" fill="#555" text-anchor="end">100</text>
<rect x="469.50" y="60.25" width="1" height="0.5" fill="#777"/>
<text x="469.00" y="71.40" font-size="2.8" fill="#555" text-anchor="end">50</text>
<rect x="469.50" y="70.15" width="1" height="0.5" fill="#777"/>
<text x="471.18" y="82.70" font-size="2.8" fill="#555" text-anchor="middle">-3.0</text>
<text x="479.63" y="82.70" font-size="2.8" fill="#555" text-anchor="middle">TSS</text>
<text x="499.23" y="82.70" font-size="2.8" fill="#555" text-anchor="middle">TES:3kb</text>
<defs><linearGradient id="h3_0" x1="0" x2="1" y1="0" y2="0"><stop offset="0.000" stop-color="#fdb365"/><stop offset="0.203" stop-color="#fdae61"/><stop offset="0.223" stop-color="#4fa8b0"/><stop offset="0.301" stop-color="#4fa8b0"/><stop offset="0.321" stop-color="#ecf8a2"/><stop offset="0.550" stop-color="#ecf8a2"/><stop offset="0.700" stop-color="#ecf8a2"/><stop offset="0.820" stop-color="#ecf8a2"/><stop offset="1.000" stop-color="#f1f9a8"/></linearGradient><linearGradient id="h3_1" x1="0" x2="1" y1="0" y2="0"><stop offset="0.000" stop-color="#fb9c59"/><stop offset="0.207" stop-color="#fa9757"/><stop offset="0.227" stop-color="#56b1ac"/><stop offset="0.297" stop-color="#56b1ac"/><stop offset="0.317" stop-color="#fedb87"/><stop offset="0.550" stop-color="#fedb87"/><stop offset="0.700" stop-color="#fedb87"/><stop offset="0.820" stop-color="#fedb87"/><stop offset="1.000" stop-color="#fed582"/></linearGradient><linearGradient id="h3_2" x1="0" x2="1" y1="0" y2="0"><stop offset="0.000" stop-color="#f88c51"/><stop offset="0.211" stop-color="#f8874f"/><stop offset="0.231" stop-color="#61bca7"/><stop offset="0.293" stop-color="#61bca7"/><stop offset="0.313" stop-color="#fdbf70"/><stop offset="0.550" stop-color="#fdbf70"/><stop offset="0.700" stop-color="#fdbf70"/><stop offset="0.820" stop-color="#fdbf70"/><stop offset="1.000" stop-color="#fdba6b"/></linearGradient><linearGradient id="h3_3" x1="0" x2="1" y1="0" y2="0"><stop offset="0.000" stop-color="#f7804c"/><stop offset="0.214" stop-color="#f67c4a"/><stop offset="0.235" stop-color="#6dc5a5"/><stop offset="0.289" stop-color="#6dc5a5"/><stop offset="0.310" stop-color="#fdab60"/><stop offset="0.550" stop-color="#fdab60"/><stop offset="0.700" stop-color="#fdab60"/><stop offset="0.820" stop-color="#fdab60"/><stop offset="1.000" stop-color="#fca55d"/></linearGradient><linearGradient id="h3_4" x1="0" x2="1" y1="0" y2="0"><stop offset="0.000" stop-color="#f57848"/><stop offset="0.217" stop-color="#f57446"/><stop offset="0.237" stop-color="#7bcaa5"/><stop offset="0.287" stop-color="#7bcaa5"/><stop offset="0.307" stop-color="#fb9e5a"/><stop offset="0.550" stop-color="#fb9e5a"/><stop offset="0.700" stop-color="#fb9e5a"/><stop offset="0.820" stop-color="#fb9e5a"/><stop offset="1.000" stop-color="#fa9857"/></linearGradient><linearGradient id="h3_5" x1="0" x2="1" y1="0" y2="0"><stop offset="0.000" stop-color="#f57145"/><stop offset="0.218" stop-color="#f46d43"/><stop offset="0.239" stop-color="#85cea5"/><stop offset="0.285" stop-color="#85cea5"/><stop offset="0.306" stop-color="#fa9757"/><stop offset="0.550" stop-color="#fa9757"/><stop offset="0.700" stop-color="#fa9757"/><stop offset="0.820" stop-color="#fa9757"/><stop offset="1.000" stop-color="#f99254"/></linearGradient><linearGradient id="h3_6" x1="0" x2="1" y1="0" y2="0"><stop offset="0.000" stop-color="#f36b44"/><stop offset="0.218" stop-color="#f16844"/><stop offset="0.239" stop-color="#8cd1a4"/><stop offset="0.285" stop-color="#8cd1a4"/><stop offset="0.306" stop-color="#f99154"/><stop offset="0.550" stop-color="#f99154"/><stop offset="0.700" stop-color="#f99154"/><stop offset="0.820" stop-color="#f99154"/><stop offset="1.000" stop-color="#f88c51"/></linearGradient><linearGradient id="h3_7" x1="0" x2="1" y1="0" y2="0"><stop offset="0.000" stop-color="#f06744"/><stop offset="0.218" stop-color="#ef6545"/><stop offset="0.239" stop-color="#96d5a4"/><stop offset="0.285" stop-color="#96d5a4"/><stop offset="0.306" stop-color="#f88a50"/><stop offset="0.550" stop-color="#f88a50"/><stop offset="0.700" stop-color="#f88a50"/><stop offset="0.820" stop-color="#f88a50"/><stop offset="1.000" stop-color="#f7854e"/></linearGradient><linearGradient id="h3_8" x1="0" x2="1" y1="0" y2="0"><stop offset="0.000" stop-color="#ef6545"/><stop offset="0.218" stop-color="#ed6246"/><stop offset="0.239" stop-color="#a2daa4"/><stop offset="0.285" stop-color="#a2daa4"/><stop offset="0.306" stop-color="#f7844d"/><stop offset="0.550" stop-color="#f7844d"/><stop offset="0.700" stop-color="#f7844d"/><stop offset="0.820" stop-color="#f7844d"/><stop offset="1.000" stop-color="#f77f4b"/></linearGradient><linearGradient id="h3_9" x1="0" x2="1" y1="0" y2="0"><stop offset="0.000" stop-color="#ed6346"/><stop offset="0.218" stop-color="#eb6046"/><stop offset="0.239" stop-color="#acdea4"/><stop offset="0.285" stop-color="#acdea4"/><stop offset="0.306" stop-color="#f67d4a"/><stop offset="0.550" stop-color="#f67d4a"/><stop offset="0.700" stop-color="#f67d4a"/><stop offset="0.820" stop-color="#f67d4a"/><stop offset="1.000" stop-color="#f67948"/></linearGradient><linearGradient id="h3_10" x1="0" x2="1" y1="0" y2="0"><stop offset="0.000" stop-color="#ec6046"/><stop offset="0.218" stop-color="#ea5e47"/><stop offset="0.239" stop-color="#b5e1a2"/><stop offset="0.285" stop-color="#b5e1a2"/><stop offset="0.306" stop-color="#f57748"/><stop offset="0.550" stop-color="#f57748"/><stop offset="0.700" stop-color="#f57748"/><stop offset="0.820" stop-color="#f57748"/><stop offset="1.000" stop-color="#f57346"/></linearGradient><linearGradient id="h3_11" x1="0" x2="1" y1="0" y2="0"><stop offset="0.000" stop-color="#eb5f47"/><stop offset="0.218" stop-color="#e95c47"/><stop offset="0.239" stop-color="#bee5a0"/><stop offset="0.285" stop-color="#bee5a0"/><stop offset="0.306" stop-color="#f57245"/><stop offset="0.550" stop-color="#f57245"/><stop offset="0.700" stop-color="#f57245"/><stop offset="0.820" stop-color="#f57245"/><stop offset="1.000" stop-color="#f46e43"/></linearGradient><linearGradient id="h3_12" x1="0" x2="1" y1="0" y2="0"><stop offset="0.000" stop-color="#ea5d47"/><stop offset="0.218" stop-color="#e85b48"/><stop offset="0.239" stop-color="#cbea9d"/><stop offset="0.285" stop-color="#cbea9d"/><stop offset="0.306" stop-color="#f46d43"/><stop offset="0.550" stop-color="#f46d43"/><stop offset="0.700" stop-color="#f46d43"/><stop offset="0.820" stop-color="#f46d43"/><stop offset="1.000" stop-color="#f26a44"/></linearGradient><linearGradient id="h3_13" x1="0" x2="1" y1="0" y2="0"><stop offset="0.000" stop-color="#e95c47"/><stop offset="0.218" stop-color="#e85a48"/><stop offset="0.239" stop-color="#dcf19a"/><stop offset="0.285" stop-color="#dcf19a"/><stop offset="0.306" stop-color="#f26944"/><stop offset="0.550" stop-color="#f26944"/><stop offset="0.700" stop-color="#f26944"/><stop offset="0.820" stop-color="#f26944"/><stop offset="1.000" stop-color="#f06745"/></linearGradient><linearGradient id="h3_14" x1="0" x2="1" y1="0" y2="0"><stop offset="0.000" stop-color="#e85b47"/><stop offset="0.218" stop-color="#e75948"/><stop offset="0.239" stop-color="#e8f69b"/><stop offset="0.285" stop-color="#e8f69b"/><stop offset="0.306" stop-color="#f06645"/><stop offset="0.550" stop-color="#f06645"/><stop offset="0.700" stop-color="#f06645"/><stop offset="0.820" stop-color="#f06645"/><stop offset="1.000" stop-color="#ee6445"/></linearGradient><linearGradient id="h3_15" x1="0" x2="1" y1="0" y2="0"><stop offset="0.000" stop-color="#e85b48"/><stop offset="0.218" stop-color="#e65848"/><stop offset="0.239" stop-color="#eff8a6"/><stop offset="0.285" stop-color="#eff8a6"/><stop offset="0.306" stop-color="#ee6345"/><stop offset="0.550" stop-color="#ee6345"/><stop offset="0.700" stop-color="#ee6345"/><stop offset="0.820" stop-color="#ee6345"/><stop offset="1.000" stop-color="#ec6146"/></linearGradient><linearGradient id="h3_16" x1="0" x2="1" y1="0" y2="0"><stop offset="0.000" stop-color="#e75a48"/><stop offset="0.218" stop-color="#e65749"/><stop offset="0.239" stop-color="#f6fcb1"/><stop offset="0.285" stop-color="#f6fcb1"/><stop offset="0.306" stop-color="#ec6146"/><stop offset="0.550" stop-color="#ec6146"/><stop offset="0.700" stop-color="#ec6146"/><stop offset="0.820" stop-color="#ec6146"/><stop offset="1.000" stop-color="#eb5f47"/></linearGradient><linearGradient id="h3_17" x1="0" x2="1" y1="0" y2="0"><stop offset="0.000" stop-color="#e65848"/><stop offset="0.218" stop-color="#e55649"/><stop offset="0.239" stop-color="#fefebd"/><stop offset="0.285" stop-color="#fefebd"/><stop offset="0.306" stop-color="#eb5f47"/><stop offset="0.550" stop-color="#eb5f47"/><stop offset="0.700" stop-color="#eb5f47"/><stop offset="0.820" stop-color="#eb5f47"/><stop offset="1.000" stop-color="#e95c47"/></linearGradient><linearGradient id="h3_18" x1="0" x2="1" y1="0" y2="0"><stop offset="0.000" stop-color="#e55649"/><stop offset="0.218" stop-color="#e45449"/><stop offset="0.239" stop-color="#fff7b2"/><stop offset="0.285" stop-color="#fff7b2"/><stop offset="0.306" stop-color="#e95c47"/><stop offset="0.550" stop-color="#e95c47"/><stop offset="0.700" stop-color="#e95c47"/><stop offset="0.820" stop-color="#e95c47"/><stop offset="1.000" stop-color="#e75948"/></linearGradient><linearGradient id="h3_19" x1="0" x2="1" y1="0" y2="0"><stop offset="0.000" stop-color="#e45449"/><stop offset="0.218" stop-color="#e2524a"/><stop offset="0.239" stop-color="#fef0a5"/><stop offset="0.285" stop-color="#fef0a5"/><stop offset="0.306" stop-color="#e75948"/><stop offset="0.550" stop-color="#e75948"/><stop offset="0.700" stop-color="#e75948"/><stop offset="0.820" stop-color="#e75948"/><stop offset="1.000" stop-color="#e55749"/></linearGradient><linearGradient id="h3_20" x1="0" x2="1" y1="0" y2="0"><stop offset="0.000" stop-color="#e2524a"/><stop offset="0.218" stop-color="#e1504a"/><stop offset="0.239" stop-color="#fee99b"/><stop offset="0.285" stop-color="#fee99b"/><stop offset="0.306" stop-color="#e55649"/><stop offset="0.550" stop-color="#e55649"/><stop offset="0.700" stop-color="#e55649"/><stop offset="0.820" stop-color="#e55649"/><stop offset="1.000" stop-color="#e35449"/></linearGradient><linearGradient id="h3_21" x1="0" x2="1" y1="0" y2="0"><stop offset="0.000" stop-color="#e1504a"/><stop offset="0.218" stop-color="#e04e4b"/><stop offset="0.239" stop-color="#fee390"/><stop offset="0.285" stop-color="#fee390"/><stop offset="0.306" stop-color="#e3534a"/><stop offset="0.550" stop-color="#e3534a"/><stop offset="0.700" stop-color="#e3534a"/><stop offset="0.820" stop-color="#e3534a"/><stop offset="1.000" stop-color="#e2514a"/></linearGradient><linearGradient id="h3_22" x1="0" x2="1" y1="0" y2="0"><stop offset="0.000" stop-color="#e04e4b"/><stop offset="0.218" stop-color="#de4c4b"/><stop offset="0.239" stop-color="#fedd88"/><stop offset="0.285" stop-color="#fedd88"/><stop offset="0.306" stop-color="#e1514a"/><stop offset="0.550" stop-color="#e1514a"/><stop offset="0.700" stop-color="#e1514a"/><stop offset="0.820" stop-color="#e1514a"/><stop offset="1.000" stop-color="#e04f4b"/></linearGradient><linearGradient id="h3_23" x1="0" x2="1" y1="0" y2="0"><stop offset="0.000" stop-color="#de4c4b"/><stop offset="0.218" stop-color="#dd4a4c"/><stop offset="0.239" stop-color="#fed783"/><stop offset="0.285" stop-color="#fed783"/><stop offset="0.306" stop-color="#e04e4b"/><stop offset="0.550" stop-color="#e04e4b"/><stop offset="0.700" stop-color="#e04e4b"/><stop offset="0.820" stop-color="#e04e4b"/><stop offset="1.000" stop-color="#de4c4b"/></linearGradient><linearGradient id="h3_24" x1="0" x2="1" y1="0" y2="0"><stop offset="0.000" stop-color="#dd4a4c"/><stop offset="0.218" stop-color="#dc494c"/><stop offset="0.239" stop-color="#fed07e"/><stop offset="0.285" stop-color="#fed07e"/><stop offset="0.306" stop-color="#de4c4b"/><stop offset="0.550" stop-color="#de4c4b"/><stop offset="0.700" stop-color="#de4c4b"/><stop offset="0.820" stop-color="#de4c4b"/><stop offset="1.000" stop-color="#dd4a4c"/></linearGradient><linearGradient id="h3_25" x1="0" x2="1" y1="0" y2="0"><stop offset="0.000" stop-color="#dc494c"/><stop offset="0.218" stop-color="#db474d"/><stop offset="0.239" stop-color="#feca79"/><stop offset="0.285" stop-color="#feca79"/><stop offset="0.306" stop-color="#dd4a4c"/><stop offset="0.550" stop-color="#dd4a4c"/><stop offset="0.700" stop-color="#dd4a4c"/><stop offset="0.820" stop-color="#dd4a4c"/><stop offset="1.000" stop-color="#db484d"/></linearGradient><linearGradient id="h3_26" x1="0" x2="1" y1="0" y2="0"><stop offset="0.000" stop-color="#db474d"/><stop offset="0.218" stop-color="#da464d"/><stop offset="0.239" stop-color="#fdc373"/><stop offset="0.285" stop-color="#fdc373"/><stop offset="0.306" stop-color="#db474d"/><stop offset="0.550" stop-color="#db474d"/><stop offset="0.700" stop-color="#db474d"/><stop offset="0.820" stop-color="#db474d"/><stop offset="1.000" stop-color="#da464d"/></linearGradient><linearGradient id="h3_27" x1="0" x2="1" y1="0" y2="0"><stop offset="0.000" stop-color="#da464d"/><stop offset="0.218" stop-color="#d9454d"/><stop offset="0.239" stop-color="#fdbb6c"/><stop offset="0.285" stop-color="#fdbb6c"/><stop offset="0.306" stop-color="#da464d"/><stop offset="0.550" stop-color="#da464d"/><stop offset="0.700" stop-color="#da464d"/><stop offset="0.820" stop-color="#da464d"/><stop offset="1.000" stop-color="#d9444d"/></linearGradient><linearGradient id="h3_28" x1="0" x2="1" y1="0" y2="0"><stop offset="0.000" stop-color="#da454d"/><stop offset="0.218" stop-color="#d9444e"/><stop offset="0.239" stop-color="#fdb365"/><stop offset="0.285" stop-color="#fdb365"/><stop offset="0.306" stop-color="#d9444e"/><stop offset="0.550" stop-color="#d9444e"/><stop offset="0.700" stop-color="#d9444e"/><stop offset="0.820" stop-color="#d9444e"/><stop offset="1.000" stop-color="#d8424e"/></linearGradient><linearGradient id="h3_29" x1="0" x2="1" y1="0" y2="0"><stop offset="0.000" stop-color="#d8424e"/><stop offset="0.218" stop-color="#d7414e"/><stop offset="0.239" stop-color="#fdad60"/><stop offset="0.285" stop-color="#fdad60"/><stop offset="0.306" stop-color="#d7414e"/><stop offset="0.550" stop-color="#d7414e"/><stop offset="0.700" stop-color="#d7414e"/><stop offset="0.820" stop-color="#d7414e"/><stop offset="1.000" stop-color="#d63f4f"/></linearGradient><linearGradient id="h3_30" x1="0" x2="1" y1="0" y2="0"><stop offset="0.000" stop-color="#d63f4f"/><stop offset="0.218" stop-color="#d53e4f"/><stop offset="0.239" stop-color="#fca55d"/><stop offset="0.285" stop-color="#fca55d"/><stop offset="0.306" stop-color="#d53e4f"/><stop offset="0.550" stop-color="#d53e4f"/><stop offset="0.700" stop-color="#d53e4f"/><stop offset="0.820" stop-color="#d53e4f"/><stop offset="1.000" stop-color="#d33d4f"/></linearGradient><linearGradient id="h3_31" x1="0" x2="1" y1="0" y2="0"><stop offset="0.000" stop-color="#d33d4f"/><stop offset="0.218" stop-color="#d23c4e"/><stop offset="0.239" stop-color="#fb9e59"/><stop offset="0.285" stop-color="#fb9e59"/><stop offset="0.306" stop-color="#d23c4e"/><stop offset="0.550" stop-color="#d23c4e"/><stop offset="0.700" stop-color="#d23c4e"/><stop offset="0.820" stop-color="#d23c4e"/><stop offset="1.000" stop-color="#d03b4e"/></linearGradient><linearGradient id="h3_32" x1="0" x2="1" y1="0" y2="0"><stop offset="0.000" stop-color="#d03b4e"/><stop offset="0.218" stop-color="#cf3a4e"/><stop offset="0.239" stop-color="#fa9756"/><stop offset="0.285" stop-color="#fa9756"/><stop offset="0.306" stop-color="#cf3a4e"/><stop offset="0.550" stop-color="#cf3a4e"/><stop offset="0.700" stop-color="#cf3a4e"/><stop offset="0.820" stop-color="#cf3a4e"/><stop offset="1.000" stop-color="#ce394d"/></linearGradient><linearGradient id="h3_33" x1="0" x2="1" y1="0" y2="0"><stop offset="0.000" stop-color="#cd394d"/><stop offset="0.218" stop-color="#cc384d"/><stop offset="0.239" stop-color="#f99053"/><stop offset="0.285" stop-color="#f99053"/><stop offset="0.306" stop-color="#cc384d"/><stop offset="0.550" stop-color="#cc384d"/><stop offset="0.700" stop-color="#cc384d"/><stop offset="0.820" stop-color="#cc384d"/><stop offset="1.000" stop-color="#cb374d"/></linearGradient><linearGradient id="h3_34" x1="0" x2="1" y1="0" y2="0"><stop offset="0.000" stop-color="#ca374d"/><stop offset="0.218" stop-color="#c9364d"/><stop offset="0.239" stop-color="#f88950"/><stop offset="0.285" stop-color="#f88950"/><stop offset="0.306" stop-color="#c9364d"/><stop offset="0.550" stop-color="#c9364d"/><stop offset="0.700" stop-color="#c9364d"/><stop offset="0.820" stop-color="#c9364d"/><stop offset="1.000" stop-color="#c8354c"/></linearGradient><linearGradient id="h3_35" x1="0" x2="1" y1="0" y2="0"><stop offset="0.000" stop-color="#c8354c"/><stop offset="0.218" stop-color="#c7344c"/><stop offset="0.239" stop-color="#f7834d"/><stop offset="0.285" stop-color="#f7834d"/><stop offset="0.306" stop-color="#c7344c"/><stop offset="0.550" stop-color="#c7344c"/><stop offset="0.700" stop-color="#c7344c"/><stop offset="0.820" stop-color="#c7344c"/><stop offset="1.000" stop-color="#c5334c"/></linearGradient><linearGradient id="h3_36" x1="0" x2="1" y1="0" y2="0"><stop offset="0.000" stop-color="#c5334c"/><stop offset="0.218" stop-color="#c4334c"/><stop offset="0.239" stop-color="#f67e4b"/><stop offset="0.285" stop-color="#f67e4b"/><stop offset="0.306" stop-color="#c4334c"/><stop offset="0.550" stop-color="#c4334c"/><stop offset="0.700" stop-color="#c4334c"/><stop offset="0.820" stop-color="#c4334c"/><stop offset="1.000" stop-color="#c3324b"/></linearGradient><linearGradient id="h3_37" x1="0" x2="1" y1="0" y2="0"><stop offset="0.000" stop-color="#c3324b"/><stop offset="0.218" stop-color="#c2314b"/><stop offset="0.239" stop-color="#f67948"/><stop offset="0.285" stop-color="#f67948"/><stop offset="0.306" stop-color="#c2314b"/><stop offset="0.550" stop-color="#c2314b"/><stop offset="0.700" stop-color="#c2314b"/><stop offset="0.820" stop-color="#c2314b"/><stop offset="1.000" stop-color="#c1314b"/></linearGradient><linearGradient id="h3_38" x1="0" x2="1" y1="0" y2="0"><stop offset="0.000" stop-color="#c1304b"/><stop offset="0.218" stop-color="#c0304b"/><stop offset="0.239" stop-color="#f57446"/><stop offset="0.285" stop-color="#f57446"/><stop offset="0.306" stop-color="#c0304b"/><stop offset="0.550" stop-color="#c0304b"/><stop offset="0.700" stop-color="#c0304b"/><stop offset="0.820" stop-color="#c0304b"/><stop offset="1.000" stop-color="#bf2f4a"/></linearGradient><linearGradient id="h3_39" x1="0" x2="1" y1="0" y2="0"><stop offset="0.000" stop-color="#bf2f4a"/><stop offset="0.218" stop-color="#be2e4a"/><stop offset="0.239" stop-color="#f46e44"/><stop offset="0.285" stop-color="#f46e44"/><stop offset="0.306" stop-color="#be2e4a"/><stop offset="0.550" stop-color="#be2e4a"/><stop offset="0.700" stop-color="#be2e4a"/><stop offset="0.820" stop-color="#be2e4a"/><stop offset="1.000" stop-color="#bd2e4a"/></linearGradient><linearGradient id="h3_40" x1="0" x2="1" y1="0" y2="0"><stop offset="0.000" stop-color="#bd2e4a"/><stop offset="0.218" stop-color="#bc2d4a"/><stop offset="0.239" stop-color="#f16844"/><stop offset="0.285" stop-color="#f16844"/><stop offset="0.306" stop-color="#bc2d4a"/><stop offset="0.550" stop-color="#bc2d4a"/><stop offset="0.700" stop-color="#bc2d4a"/><stop offset="0.820" stop-color="#bc2d4a"/><stop offset="1.000" stop-color="#bb2c4a"/></linearGradient><linearGradient id="h3_41" x1="0" x2="1" y1="0" y2="0"><stop offset="0.000" stop-color="#ba2c49"/><stop offset="0.218" stop-color="#b92b49"/><stop offset="0.239" stop-color="#eb5f46"/><stop offset="0.285" stop-color="#eb5f46"/><stop offset="0.306" stop-color="#b92b49"/><stop offset="0.550" stop-color="#b92b49"/><stop offset="0.700" stop-color="#b92b49"/><stop offset="0.820" stop-color="#b92b49"/><stop offset="1.000" stop-color="#b92b49"/></linearGradient><linearGradient id="h3_42" x1="0" x2="1" y1="0" y2="0"><stop offset="0.000" stop-color="#b72949"/><stop offset="0.218" stop-color="#b62949"/><stop offset="0.239" stop-color="#e3534a"/><stop offset="0.285" stop-color="#e3534a"/><stop offset="0.306" stop-color="#b62949"/><stop offset="0.550" stop-color="#b62949"/><stop offset="0.700" stop-color="#b62949"/><stop offset="0.820" stop-color="#b62949"/><stop offset="1.000" stop-color="#b52848"/></linearGradient><linearGradient id="h3_43" x1="0" x2="1" y1="0" y2="0"><stop offset="0.000" stop-color="#b32748"/><stop offset="0.218" stop-color="#b32748"/><stop offset="0.239" stop-color="#db474d"/><stop offset="0.285" stop-color="#db474d"/><stop offset="0.306" stop-color="#b32748"/><stop offset="0.550" stop-color="#b32748"/><stop offset="0.700" stop-color="#b32748"/><stop offset="0.820" stop-color="#b32748"/><stop offset="1.000" stop-color="#b22648"/></linearGradient><linearGradient id="h3_44" x1="0" x2="1" y1="0" y2="0"><stop offset="0.000" stop-color="#b12547"/><stop offset="0.218" stop-color="#b02547"/><stop offset="0.239" stop-color="#d43e4f"/><stop offset="0.285" stop-color="#d43e4f"/><stop offset="0.306" stop-color="#b02547"/><stop offset="0.550" stop-color="#b02547"/><stop offset="0.700" stop-color="#b02547"/><stop offset="0.820" stop-color="#b02547"/><stop offset="1.000" stop-color="#b02547"/></linearGradient><linearGradient id="h3_45" x1="0" x2="1" y1="0" y2="0"><stop offset="0.000" stop-color="#ae2447"/><stop offset="0.218" stop-color="#ae2347"/><stop offset="0.239" stop-color="#c9364d"/><stop offset="0.285" stop-color="#c9364d"/><stop offset="0.306" stop-color="#ae2347"/><stop offset="0.550" stop-color="#ae2347"/><stop offset="0.700" stop-color="#ae2347"/><stop offset="0.820" stop-color="#ae2347"/><stop offset="1.000" stop-color="#ad2347"/></linearGradient><linearGradient id="h3_46" x1="0" x2="1" y1="0" y2="0"><stop offset="0.000" stop-color="#ac2246"/><stop offset="0.218" stop-color="#ab2246"/><stop offset="0.239" stop-color="#be2e4a"/><stop offset="0.285" stop-color="#be2e4a"/><stop offset="0.306" stop-color="#ab2246"/><stop offset="0.550" stop-color="#ab2246"/><stop offset="0.700" stop-color="#ab2246"/><stop offset="0.820" stop-color="#ab2246"/><stop offset="1.000" stop-color="#ab2146"/></linearGradient><linearGradient id="h3_47" x1="0" x2="1" y1="0" y2="0"><stop offset="0.000" stop-color="#aa2146"/><stop offset="0.218" stop-color="#a92046"/><stop offset="0.239" stop-color="#b52848"/><stop offset="0.285" stop-color="#b52848"/><stop offset="0.306" stop-color="#a92046"/><stop offset="0.550" stop-color="#a92046"/><stop offset="0.700" stop-color="#a92046"/><stop offset="0.820" stop-color="#a92046"/><stop offset="1.000" stop-color="#a92046"/></linearGradient><linearGradient id="h3_48" x1="0" x2="1" y1="0" y2="0"><stop offset="0.000" stop-color="#a92046"/><stop offset="0.218" stop-color="#a92046"/><stop offset="0.239" stop-color="#b22648"/><stop offset="0.285" stop-color="#b22648"/><stop offset="0.306" stop-color="#a92046"/><stop offset="0.550" stop-color="#a92046"/><stop offset="0.700" stop-color="#a92046"/><stop offset="0.820" stop-color="#a92046"/><stop offset="1.000" stop-color="#a82046"/></linearGradient><linearGradient id="h3_49" x1="0" x2="1" y1="0" y2="0"><stop offset="0.000" stop-color="#a81f46"/><stop offset="0.218" stop-color="#a81f46"/><stop offset="0.239" stop-color="#af2447"/><stop offset="0.285" stop-color="#af2447"/><stop offset="0.306" stop-color="#a81f46"/><stop offset="0.550" stop-color="#a81f46"/><stop offset="0.700" stop-color="#a81f46"/><stop offset="0.820" stop-color="#a81f46"/><stop offset="1.000" stop-color="#a81f46"/></linearGradient><linearGradient id="h3_50" x1="0" x2="1" y1="0" y2="0"><stop offset="0.000" stop-color="#a71f46"/><stop offset="0.218" stop-color="#a71f45"/><stop offset="0.239" stop-color="#ad2347"/><stop offset="0.285" stop-color="#ad2347"/><stop offset="0.306" stop-color="#a71f45"/><stop offset="0.550" stop-color="#a71f45"/><stop offset="0.700" stop-color="#a71f45"/><stop offset="0.820" stop-color="#a71f45"/><stop offset="1.000" stop-color="#a71f45"/></linearGradient><linearGradient id="h3_51" x1="0" x2="1" y1="0" y2="0"><stop offset="0.000" stop-color="#a71e45"/><stop offset="0.218" stop-color="#a61e45"/><stop offset="0.239" stop-color="#aa2146"/><stop offset="0.285" stop-color="#aa2146"/><stop offset="0.306" stop-color="#a61e45"/><stop offset="0.550" stop-color="#a61e45"/><stop offset="0.700" stop-color="#a61e45"/><stop offset="0.820" stop-color="#a61e45"/><stop offset="1.000" stop-color="#a61e45"/></linearGradient><linearGradient id="h3_52" x1="0" x2="1" y1="0" y2="0"><stop offset="0.000" stop-color="#a61e45"/><stop offset="0.218" stop-color="#a61e45"/><stop offset="0.239" stop-color="#a71f46"/><stop offset="0.285" stop-color="#a71f46"/><stop offset="0.306" stop-color="#a61e45"/><stop offset="0.550" stop-color="#a61e45"/><stop offset="0.700" stop-color="#a61e45"/><stop offset="0.820" stop-color="#a61e45"/><stop offset="1.000" stop-color="#a51e45"/></linearGradient></defs>
<rect x="470.60" y="84.60" width="34.20" height="2.00" fill="url(#h3_0)" shape-rendering="crispEdges"/>
<rect x="470.60" y="85.60" width="34.20" height="2.00" fill="url(#h3_1)" shape-rendering="crispEdges"/>
<rect x="470.60" y="86.60" width="34.20" height="2.00" fill="url(#h3_2)" shape-rendering="crispEdges"/>
<rect x="470.60" y="87.60" width="34.20" height="2.00" fill="url(#h3_3)" shape-rendering="crispEdges"/>
<rect x="470.60" y="88.60" width="34.20" height="2.00" fill="url(#h3_4)" shape-rendering="crispEdges"/>
<rect x="470.60" y="89.60" width="34.20" height="2.00" fill="url(#h3_5)" shape-rendering="crispEdges"/>
<rect x="470.60" y="90.60" width="34.20" height="2.00" fill="url(#h3_6)" shape-rendering="crispEdges"/>
<rect x="470.60" y="91.60" width="34.20" height="2.00" fill="url(#h3_7)" shape-rendering="crispEdges"/>
<rect x="470.60" y="92.60" width="34.20" height="2.00" fill="url(#h3_8)" shape-rendering="crispEdges"/>
<rect x="470.60" y="93.60" width="34.20" height="2.00" fill="url(#h3_9)" shape-rendering="crispEdges"/>
<rect x="470.60" y="94.60" width="34.20" height="2.00" fill="url(#h3_10)" shape-rendering="crispEdges"/>
<rect x="470.60" y="95.60" width="34.20" height="2.00" fill="url(#h3_11)" shape-rendering="crispEdges"/>
<rect x="470.60" y="96.60" width="34.20" height="3.00" fill="url(#h3_12)" shape-rendering="crispEdges"/>
<rect x="470.60" y="98.60" width="34.20" height="3.00" fill="url(#h3_13)" shape-rendering="crispEdges"/>
<rect x="470.60" y="100.60" width="34.20" height="3.00" fill="url(#h3_14)" shape-rendering="crispEdges"/>
<rect x="470.60" y="102.60" width="34.20" height="3.00" fill="url(#h3_15)" shape-rendering="crispEdges"/>
<rect x="470.60" y="104.60" width="34.20" height="3.00" fill="url(#h3_16)" shape-rendering="crispEdges"/>
<rect x="470.60" y="106.60" width="34.20" height="3.00" fill="url(#h3_17)" shape-rendering="crispEdges"/>
<rect x="470.60" y="108.60" width="34.20" height="3.00" fill="url(#h3_18)" shape-rendering="crispEdges"/>
<rect x="470.60" y="110.60" width="34.20" height="3.00" fill="url(#h3_19)" shape-rendering="crispEdges"/>
<rect x="470.60" y="112.60" width="34.20" height="3.00" fill="url(#h3_20)" shape-rendering="crispEdges"/>
<rect x="470.60" y="114.60" width="34.20" height="3.00" fill="url(#h3_21)" shape-rendering="crispEdges"/>
<rect x="470.60" y="116.60" width="34.20" height="3.00" fill="url(#h3_22)" shape-rendering="crispEdges"/>
<rect x="470.60" y="118.60" width="34.20" height="3.00" fill="url(#h3_23)" shape-rendering="crispEdges"/>
<rect x="470.60" y="120.60" width="34.20" height="3.00" fill="url(#h3_24)" shape-rendering="crispEdges"/>
<rect x="470.60" y="122.60" width="34.20" height="3.00" fill="url(#h3_25)" shape-rendering="crispEdges"/>
<rect x="470.60" y="124.60" width="34.20" height="5.00" fill="url(#h3_26)" shape-rendering="crispEdges"/>
<rect x="470.60" y="128.60" width="34.20" height="5.00" fill="url(#h3_27)" shape-rendering="crispEdges"/>
<rect x="470.60" y="132.60" width="34.20" height="5.00" fill="url(#h3_28)" shape-rendering="crispEdges"/>
<rect x="470.60" y="136.60" width="34.20" height="5.00" fill="url(#h3_29)" shape-rendering="crispEdges"/>
<rect x="470.60" y="140.60" width="34.20" height="5.00" fill="url(#h3_30)" shape-rendering="crispEdges"/>
<rect x="470.60" y="144.60" width="34.20" height="5.00" fill="url(#h3_31)" shape-rendering="crispEdges"/>
<rect x="470.60" y="148.60" width="34.20" height="5.00" fill="url(#h3_32)" shape-rendering="crispEdges"/>
<rect x="470.60" y="152.60" width="34.20" height="5.00" fill="url(#h3_33)" shape-rendering="crispEdges"/>
<rect x="470.60" y="156.60" width="34.20" height="5.00" fill="url(#h3_34)" shape-rendering="crispEdges"/>
<rect x="470.60" y="160.60" width="34.20" height="5.00" fill="url(#h3_35)" shape-rendering="crispEdges"/>
<rect x="470.60" y="164.60" width="34.20" height="5.00" fill="url(#h3_36)" shape-rendering="crispEdges"/>
<rect x="470.60" y="168.60" width="34.20" height="5.00" fill="url(#h3_37)" shape-rendering="crispEdges"/>
<rect x="470.60" y="172.60" width="34.20" height="5.00" fill="url(#h3_38)" shape-rendering="crispEdges"/>
<rect x="470.60" y="176.60" width="34.20" height="5.00" fill="url(#h3_39)" shape-rendering="crispEdges"/>
<rect x="470.60" y="180.60" width="34.20" height="5.00" fill="url(#h3_40)" shape-rendering="crispEdges"/>
<rect x="470.60" y="184.60" width="34.20" height="9.00" fill="url(#h3_41)" shape-rendering="crispEdges"/>
<rect x="470.60" y="192.60" width="34.20" height="9.00" fill="url(#h3_42)" shape-rendering="crispEdges"/>
<rect x="470.60" y="200.60" width="34.20" height="9.00" fill="url(#h3_43)" shape-rendering="crispEdges"/>
<rect x="470.60" y="208.60" width="34.20" height="9.00" fill="url(#h3_44)" shape-rendering="crispEdges"/>
<rect x="470.60" y="216.60" width="34.20" height="9.00" fill="url(#h3_45)" shape-rendering="crispEdges"/>
<rect x="470.60" y="224.60" width="34.20" height="9.00" fill="url(#h3_46)" shape-rendering="crispEdges"/>
<rect x="470.60" y="232.60" width="34.20" height="9.00" fill="url(#h3_47)" shape-rendering="crispEdges"/>
<rect x="470.60" y="240.60" width="34.20" height="9.00" fill="url(#h3_48)" shape-rendering="crispEdges"/>
<rect x="470.60" y="248.60" width="34.20" height="9.00" fill="url(#h3_49)" shape-rendering="crispEdges"/>
<rect x="470.60" y="256.60" width="34.20" height="9.00" fill="url(#h3_50)" shape-rendering="crispEdges"/>
<rect x="470.60" y="264.60" width="34.20" height="9.00" fill="url(#h3_51)" shape-rendering="crispEdges"/>
<rect x="470.60" y="272.60" width="34.20" height="7.10" fill="url(#h3_52)" shape-rendering="crispEdges"/>
<rect x="470.80" y="84.80" width="33.80" height="194.70" fill="none" stroke="#505050" stroke-opacity="0.45" stroke-width="0.5"/>
<rect x="480.2" y="134" width="0.9" height="27" fill="#8a7aa8" opacity="0.85"/>
<text x="472.31" y="283.10" font-size="2.8" fill="#666" text-anchor="middle">-3.0</text>
<text x="479.83" y="283.10" font-size="2.8" fill="#666" text-anchor="middle">TSS</text>
<text x="499.67" y="283.10" font-size="2.8" fill="#666" text-anchor="middle">TES:3kb</text>
<text x="487.70" y="286.90" font-size="2.8" fill="#666" text-anchor="middle">gene distance (bp)</text>
<text x="468.60" y="197.15" font-size="2.6" fill="#888" text-anchor="middle" transform="rotate(-90 468.60 197.15)">genes</text>
<rect x="470.80" y="293.60" width="34.20" height="2.90" fill="url(#spec)"/>
<text x="472.51" y="300.10" font-size="2.8" fill="#555" text-anchor="middle">0</text>
<text x="486.19" y="300.10" font-size="2.8" fill="#555" text-anchor="middle">50</text>
<text x="501.58" y="300.10" font-size="2.8" fill="#555" text-anchor="middle">100</text>
<rect x="0" y="1" width="520" height="1" fill="#000" opacity="0.45"/>
<rect x="1" y="0" width="1" height="342" fill="#000" opacity="0.55"/>
<rect x="518" y="0" width="1" height="342" fill="#000" opacity="0.7"/>
<rect x="0" y="340" width="520" height="1" fill="#000" opacity="0.75"/>
<rect x="0" y="0" width="520" height="1" fill="#000"/>
<rect x="0" y="0" width="1" height="342" fill="#000"/>
<rect x="519" y="0" width="1" height="342" fill="#000"/>
<rect x="0" y="341" width="520" height="1" fill="#000"/>
</svg></body></html>
